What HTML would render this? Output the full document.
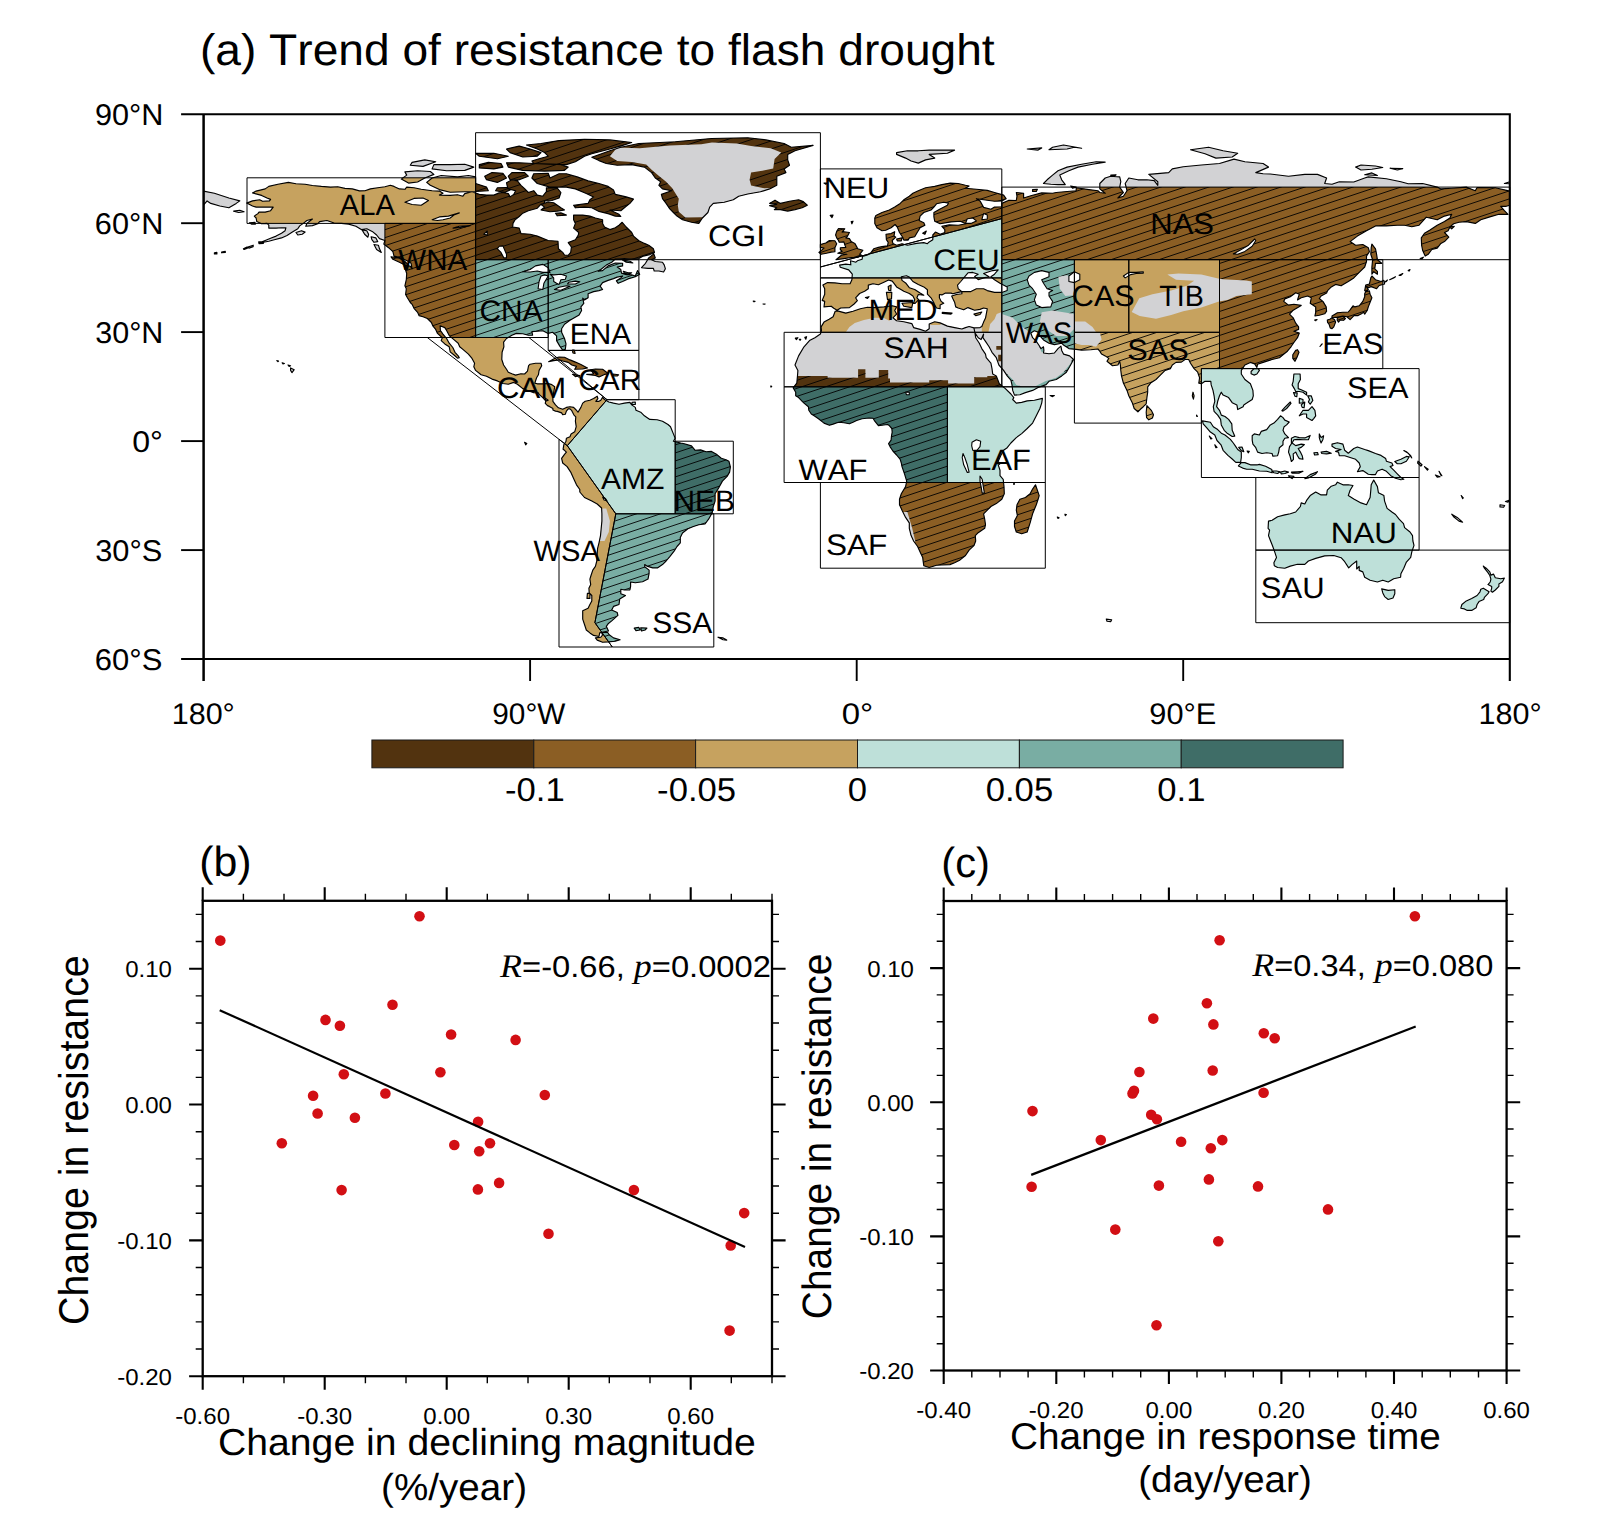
<!DOCTYPE html>
<html lang="en"><head><meta charset="utf-8"><title>Trend of resistance to flash drought</title>
<style>html,body{margin:0;padding:0;background:#fff}body{width:1602px;height:1533px;overflow:hidden}svg{display:block}text{font-kerning:none;text-rendering:geometricPrecision}</style>
</head><body>
<svg width="1602" height="1533" viewBox="0 0 1602 1533" font-family="'Liberation Sans', sans-serif" fill="#000">
<defs>
<clipPath id="land"><path d="M246.7,203.1L252.5,200.9L259.7,199.8L262.6,201.3L269.5,200.9L270.6,199.4L267.0,198.0L261.6,195.4L252.5,192.9L256.1,191.1L265.2,188.9L268.8,186.4L277.9,184.2L288.4,182.4L296.0,183.8L305.1,184.2L312.4,185.5L321.4,186.4L330.5,187.1L337.8,186.7L345.0,188.4L352.3,188.9L359.5,190.9L365.0,190.7L370.4,188.9L377.7,187.8L384.9,186.7L390.4,185.3L394.0,186.4L399.4,188.9L404.9,189.3L406.7,187.1L414.0,187.8L421.2,189.3L432.1,190.7L439.4,191.1L443.0,193.3L439.4,195.1L450.2,195.4L457.5,194.7L462.9,196.2L464.8,193.6L472.0,191.8L479.3,194.4L486.5,195.1L493.8,195.1L499.2,192.9L502.9,192.5L508.3,193.6L510.1,196.9L513.7,194.4L515.6,190.7L508.3,188.9L507.2,186.0L506.5,182.7L511.9,179.8L517.4,180.9L521.0,185.3L524.6,188.6L528.3,192.5L533.7,190.7L537.3,195.1L542.8,196.2L546.4,191.5L546.4,187.8L557.3,188.2L560.9,192.5L559.1,198.0L551.8,200.5L544.6,200.9L544.6,203.1L541.0,204.2L537.3,208.2L528.3,210.7L522.8,213.2L519.2,216.5L514.8,220.1L513.0,223.4L512.7,227.0L519.2,228.1L521.0,233.6L530.1,234.3L537.3,236.1L548.2,240.5L558.0,241.2L558.4,248.8L562.7,252.4L564.5,255.0L568.2,255.3L570.7,252.4L571.4,247.0L568.2,242.6L575.4,239.7L578.3,235.0L578.7,232.5L573.6,228.1L575.4,223.4L573.6,219.8L573.6,215.1L582.7,215.1L589.9,216.1L595.4,218.0L602.6,219.8L602.6,223.4L604.5,227.0L609.9,229.6L615.3,227.8L619.0,225.2L622.2,222.3L626.2,227.0L631.7,232.5L633.5,236.1L638.9,240.8L644.4,243.4L648.7,245.2L653.4,248.8L654.5,252.4L649.8,254.6L643.3,256.1L638.9,258.6L631.7,259.0L624.4,258.6L615.3,259.0L611.7,262.2L606.3,265.1L600.8,269.5L598.3,271.3L602.6,270.6L608.1,265.9L615.3,263.0L622.6,263.3L622.6,265.9L617.2,267.0L620.8,269.5L621.5,273.1L626.2,274.6L631.7,274.9L635.3,276.0L637.5,270.6L639.7,274.2L635.3,276.8L628.0,278.9L622.6,281.5L618.2,283.3L616.4,280.8L620.8,277.9L622.6,276.0L617.2,277.1L613.5,278.6L608.1,280.4L602.6,282.6L600.1,286.2L602.6,289.5L599.0,290.6L593.6,291.6L588.1,293.8L588.1,297.8L584.5,300.0L582.7,298.2L583.8,303.3L580.9,306.9L581.6,310.5L579.1,314.9L574.3,317.8L570.0,320.3L564.5,324.3L561.6,328.7L561.6,332.3L564.5,338.5L566.0,343.9L565.3,349.4L562.7,350.1L559.8,346.1L556.6,340.6L556.6,335.9L552.6,332.3L548.2,333.4L542.8,330.8L537.3,331.2L531.9,331.6L532.6,335.2L528.3,335.2L522.8,333.8L516.3,333.4L511.9,335.2L506.5,338.5L503.6,342.1L503.9,346.8L502.1,352.3L501.8,359.5L503.6,365.0L506.5,369.3L508.3,372.2L511.9,373.7L515.6,375.1L521.0,373.7L524.6,374.0L527.5,371.1L528.6,365.7L530.1,364.2L535.5,363.2L541.0,363.2L541.7,365.7L539.1,370.4L538.4,374.8L536.6,377.7L534.8,383.1L537.3,383.8L542.8,383.8L548.2,383.5L551.8,384.6L554.7,386.8L553.7,392.2L552.9,397.6L552.9,401.3L555.5,404.9L558.4,407.8L562.7,409.3L566.4,407.4L570.0,406.7L573.6,407.4L576.2,410.0L578.0,412.2L580.9,407.4L582.7,403.1L585.2,401.3L589.9,400.2L593.6,398.4L597.2,396.2L597.9,398.7L595.8,401.3L599.0,401.3L600.8,400.2L602.6,397.3L604.5,399.5L608.8,402.0L613.5,403.1L619.0,404.2L624.4,403.1L629.9,402.4L631.7,404.9L635.3,407.4L636.0,410.3L640.7,412.2L644.4,415.8L649.8,419.4L657.1,419.8L662.5,421.2L668.0,424.5L670.5,426.7L673.4,433.9L675.2,438.3L673.4,441.2L680.7,443.0L684.3,443.7L691.5,445.9L695.2,450.3L700.6,449.9L706.1,451.7L711.5,451.4L716.9,454.6L721.3,458.3L726.0,459.7L728.9,461.2L730.4,467.0L729.6,472.1L727.1,476.4L722.4,481.1L718.8,487.7L715.1,493.8L715.1,501.1L713.3,506.5L712.2,512.7L708.6,519.2L705.0,524.0L698.8,524.7L693.4,526.5L687.9,528.7L682.5,533.0L680.3,537.4L680.3,542.8L677.0,546.5L674.1,551.2L669.8,556.6L666.1,561.0L662.5,564.6L657.4,567.9L652.7,567.9L646.9,566.1L644.7,564.6L644.7,566.8L649.1,570.1L649.1,573.3L648.0,579.1L642.6,581.7L635.3,582.8L630.6,582.0L630.6,586.4L629.9,590.0L624.4,590.0L620.8,589.3L620.8,593.7L625.5,595.5L622.6,597.3L619.7,599.1L619.0,604.5L613.5,606.4L611.7,610.0L617.2,612.5L617.9,615.4L611.7,620.9L608.1,623.8L606.3,626.3L608.5,631.0L604.5,631.8L599.7,632.9L599.0,636.5L593.6,635.4L589.9,632.9L586.3,630.0L584.5,624.5L582.7,619.1L582.7,613.6L582.7,610.7L588.1,608.2L589.9,604.5L591.8,600.9L591.8,595.5L589.2,592.9L588.9,588.2L590.7,584.6L589.9,579.1L591.0,575.5L592.8,570.1L595.4,566.4L596.8,561.0L597.2,553.7L597.6,548.3L599.0,542.8L600.5,535.6L601.2,528.3L601.9,521.1L601.9,513.8L601.6,508.0L597.2,504.0L591.8,501.1L584.5,497.5L579.8,492.0L579.8,489.5L576.5,484.8L573.6,478.6L570.7,472.1L567.1,466.6L562.7,463.0L561.6,458.3L564.5,454.3L566.4,452.1L564.5,450.3L563.1,449.2L563.8,444.8L566.0,441.2L566.4,438.3L570.0,436.8L571.1,433.9L574.7,431.8L576.2,426.7L575.4,421.2L575.8,416.9L574.0,415.1L572.5,412.2L571.8,410.7L570.0,408.9L568.2,408.9L566.4,411.1L565.3,414.3L562.7,414.7L561.6,412.9L557.3,411.4L555.5,411.1L552.9,410.0L552.9,408.5L549.3,406.4L547.5,405.6L545.3,403.4L545.7,400.9L542.8,397.6L539.1,394.4L538.4,392.9L533.7,392.6L528.3,390.7L522.8,388.6L517.4,384.2L513.7,382.4L508.3,384.2L502.9,383.5L497.4,380.9L492.0,379.1L486.5,376.2L481.1,374.8L475.6,370.4L473.8,366.8L474.6,363.2L472.0,358.4L468.4,354.1L462.9,349.4L459.7,346.8L458.2,343.2L453.9,339.6L449.5,335.9L446.6,330.5L444.8,327.6L440.1,325.8L440.4,330.5L443.0,334.1L446.6,338.5L449.2,343.2L452.8,347.5L455.0,352.3L458.2,355.9L459.3,357.7L457.5,358.1L454.6,355.5L450.2,351.9L449.2,346.8L444.8,343.9L441.2,340.6L442.3,337.7L437.5,333.4L435.7,329.4L432.8,325.8L431.4,322.5L427.4,318.5L423.0,316.7L419.0,315.6L417.6,312.3L414.0,308.3L412.1,304.3L410.3,302.5L407.4,297.8L405.6,294.5L406.3,288.7L404.9,285.8L406.3,279.7L406.7,273.5L404.2,265.9L410.3,266.2L412.1,268.8L411.1,263.3L408.5,261.5L404.9,259.7L399.4,257.2L394.0,256.1L392.9,251.7L388.6,247.7L383.8,244.1L384.9,240.5L379.5,238.6L376.6,235.0L372.2,231.4L366.8,228.8L361.3,229.6L355.9,226.3L348.6,224.1L341.4,223.4L334.1,223.0L326.9,220.5L319.6,221.6L317.8,223.8L312.4,225.6L305.8,226.3L306.9,223.4L312.4,219.0L306.9,220.5L303.3,223.4L299.7,225.9L297.8,228.8L292.4,232.1L287.0,235.4L281.5,237.9L274.3,239.7L268.8,241.2L263.4,242.3L258.7,243.0L265.2,240.5L270.6,238.3L276.1,236.1L281.5,233.2L285.1,230.7L285.9,227.8L281.5,227.8L276.1,228.1L268.8,228.1L268.8,225.2L267.0,223.4L261.6,223.8L256.8,221.6L256.1,218.0L254.3,216.1L257.9,213.6L259.0,212.1L265.2,212.1L270.6,210.7L273.2,207.1L268.8,207.1L263.4,207.1L256.1,207.1L252.5,206.0ZM591.8,157.3L609.9,150.8L620.8,147.2L638.9,143.5L675.2,141.7L711.5,138.5L747.8,137.7L765.9,139.9L784.1,143.5L791.3,147.2L813.1,145.4L795.0,150.8L787.7,154.4L787.7,159.9L789.5,165.3L784.1,168.9L785.9,172.6L776.8,176.2L776.8,179.8L776.8,185.3L769.6,188.9L760.5,191.8L747.8,194.0L738.7,196.2L733.3,199.8L724.2,202.3L713.3,203.4L709.7,207.1L707.9,212.5L702.4,218.0L698.8,223.4L691.5,222.3L682.5,219.8L677.0,216.1L673.4,212.5L669.8,208.9L666.1,203.4L662.5,198.7L661.4,194.4L671.6,190.7L662.5,188.9L658.9,185.3L660.7,181.7L655.3,178.0L651.6,172.6L644.4,167.1L631.7,164.6L617.2,165.3L606.3,163.5L599.0,160.6ZM620.8,216.5L615.3,216.1L608.1,213.6L599.0,211.4L591.8,207.8L584.5,207.1L575.4,207.8L573.6,205.2L588.1,203.4L589.9,199.8L593.6,196.9L586.3,193.6L575.4,188.9L566.4,187.1L550.0,187.1L537.3,183.5L531.9,178.0L533.7,173.7L548.2,173.3L550.0,178.0L559.1,173.7L566.4,173.7L577.2,176.9L588.1,180.9L599.0,183.5L608.1,186.4L613.5,190.0L615.3,194.4L626.2,196.9L633.5,199.1L629.9,203.4L626.2,206.3L620.8,210.7L609.9,210.0L619.0,214.3ZM439.4,189.6L430.3,185.3L426.7,182.4L432.1,178.0L441.2,175.5L457.5,176.9L468.4,175.5L475.6,176.9L475.6,183.5L486.5,187.1L488.3,190.7L475.6,191.5L464.8,191.8L450.2,192.2ZM401.3,179.1L408.5,183.1L417.6,182.0L424.8,178.0L433.9,174.4L430.3,171.5L417.6,170.8L404.9,171.9L406.7,175.1ZM432.1,168.9L446.6,170.8L464.8,170.4L473.8,167.1L464.8,164.2L450.2,164.6L433.9,164.6ZM410.3,165.3L423.0,166.4L435.7,161.7L424.8,159.9L412.1,162.4ZM479.3,167.9L493.8,168.9L502.9,167.1L501.0,163.5L488.3,162.4L479.3,164.6ZM510.1,179.8L519.2,179.8L528.3,176.2L524.6,172.6L511.9,172.6L508.3,176.2ZM486.5,179.8L497.4,182.4L506.5,178.0L502.9,173.3L492.0,172.6L484.7,176.2ZM495.6,190.7L504.7,192.2L510.1,190.0L506.5,187.5L497.4,187.8ZM508.3,167.1L522.8,170.4L544.6,171.1L564.5,170.4L568.2,167.1L559.1,164.2L533.7,163.5L519.2,162.8L506.5,162.8ZM533.7,163.5L548.2,164.2L566.4,164.6L575.4,161.7L584.5,156.2L591.8,153.7L609.9,149.0L622.6,145.4L631.7,142.5L609.9,139.9L584.5,139.2L559.1,140.6L541.0,143.5L526.4,145.0L537.3,149.0L544.6,152.6L548.2,156.2L539.1,158.8L531.9,161.0ZM510.1,152.6L522.8,157.0L537.3,156.2L541.0,152.6L530.1,149.0L519.2,146.1L506.5,149.0ZM479.3,156.2L497.4,158.8L508.3,156.2L493.8,153.3L475.6,153.3ZM541.0,204.5L548.2,202.0L553.7,202.7L560.9,207.8L564.5,210.0L557.3,211.1L550.0,211.8L541.0,210.0L544.6,207.1ZM555.5,213.2L560.9,212.9L566.4,215.1L557.3,215.8ZM641.5,267.7L645.5,263.3L648.7,257.9L653.8,253.9L655.3,257.9L651.6,259.7L655.3,261.5L662.5,262.2L664.3,265.1L665.4,268.8L663.6,272.0L658.9,271.0L654.2,271.0L653.4,268.4L648.0,268.4ZM622.6,260.1L629.9,261.2L632.8,263.0L626.2,262.2ZM623.3,271.3L628.0,272.8L631.7,272.8L628.8,274.2L624.4,273.1ZM391.1,256.8L399.4,258.2L404.9,261.5L408.9,265.5L404.9,265.1L399.4,262.2L392.9,259.3ZM374.0,244.5L378.4,245.2L379.5,248.8L381.3,252.4L376.6,249.5ZM296.0,232.5L301.5,230.7L305.1,232.1L302.2,234.3L297.8,235.0ZM249.6,222.7L255.0,222.3L255.4,224.1L251.4,224.1ZM233.6,211.1L239.8,210.3L244.1,211.8L238.7,212.5ZM258.7,241.9L264.1,241.6L263.4,243.4L259.0,243.7ZM247.8,247.0L253.2,245.2L253.2,246.6L248.9,248.1ZM243.4,248.8L247.0,247.0L247.4,248.1L244.1,249.5ZM221.6,252.1L225.3,251.4L225.3,252.4L221.6,252.8ZM214.4,252.8L216.9,252.4L216.9,253.9L214.4,253.9ZM371.1,236.8L375.9,237.9L377.7,241.6L374.0,242.3L371.9,239.7ZM362.1,229.9L366.8,230.7L368.6,234.3L367.9,237.2L364.6,234.3ZM601.6,632.5L607.7,632.5L609.2,634.7L613.5,637.9L620.1,639.8L615.3,641.2L608.1,641.9L602.6,642.3L597.2,640.1L595.4,637.9L600.8,637.2L602.6,635.0ZM587.4,593.3L589.9,593.3L589.9,598.4L587.0,598.4ZM634.2,628.1L638.9,627.4L640.0,630.0L636.0,630.7ZM640.7,627.8L646.9,628.1L645.1,630.0L641.5,631.0ZM718.0,637.2L723.1,637.9L726.7,640.1L723.1,639.8ZM548.6,361.7L555.5,358.1L559.1,357.0L564.5,357.3L570.0,359.9L575.4,362.1L580.9,364.6L587.4,367.9L582.7,369.0L574.7,369.3L576.5,366.4L571.8,365.0L568.2,362.4L562.7,361.0L559.1,359.9L553.7,360.6ZM586.7,374.4L591.8,374.0L593.6,373.7L590.7,369.7L595.4,369.0L602.6,369.3L608.5,373.7L604.5,374.4L599.0,376.9L595.4,375.5ZM572.5,374.4L579.8,375.5L575.4,376.6ZM612.8,374.0L618.6,374.8L617.2,376.0L612.8,375.9ZM632.0,402.4L635.3,402.0L635.3,404.5L632.0,404.5ZM572.5,350.1L574.3,350.1L575.1,353.4L572.9,353.0ZM290.6,367.9L294.2,369.7L292.0,372.6L290.6,370.4ZM288.0,365.0L290.6,365.7L289.1,366.4ZM282.2,362.8L284.4,363.5L283.0,363.9ZM276.8,360.6L278.6,361.0L277.9,361.7ZM524.6,442.3L526.8,443.4L525.7,444.8ZM824.0,306.9L824.7,301.4L822.2,300.4L824.7,294.2L824.7,288.7L822.9,285.1L827.6,282.6L834.9,282.9L842.1,283.7L850.1,283.7L851.9,279.7L852.3,274.2L848.7,269.9L840.3,267.3L839.6,265.1L845.8,264.1L850.8,264.8L850.5,260.8L855.9,262.2L857.4,260.8L862.1,259.3L862.5,256.4L867.5,255.0L871.2,252.4L873.7,248.8L878.4,247.4L882.0,246.6L887.5,245.9L888.2,242.3L886.4,239.7L886.0,234.3L891.1,233.6L894.7,231.7L894.0,236.1L895.8,237.2L892.2,240.5L892.9,243.4L896.6,245.2L902.0,243.7L907.4,245.2L916.5,243.4L923.8,242.6L927.4,243.7L929.2,241.9L932.8,239.7L932.8,235.0L935.4,232.1L940.1,234.3L944.8,232.5L944.8,229.6L941.9,226.3L949.2,224.9L958.2,225.2L966.2,223.8L960.1,221.2L951.0,221.9L940.1,223.8L934.7,221.2L933.9,216.9L933.9,212.5L940.1,208.9L947.4,205.2L948.5,203.1L943.7,202.3L936.5,203.8L933.9,207.1L931.0,210.0L923.8,212.5L920.1,216.1L919.1,220.5L923.8,222.7L924.9,225.2L920.1,227.8L917.2,232.5L914.7,236.8L909.3,237.9L908.2,240.1L903.8,240.1L902.7,237.2L899.5,232.5L897.3,227.0L895.1,224.5L891.1,227.8L885.7,230.3L882.0,230.7L877.0,227.8L874.8,223.4L874.8,218.0L875.9,215.4L882.0,212.5L889.3,210.0L894.7,207.1L900.2,203.4L903.8,199.8L909.3,196.2L912.9,193.3L918.3,190.7L925.6,187.8L934.7,186.4L941.9,184.6L950.3,183.1L958.2,183.5L965.5,185.3L969.1,186.0L965.5,188.2L976.4,189.3L987.3,190.4L994.5,192.5L1003.6,195.1L1006.1,198.7L1001.8,200.9L994.5,201.3L983.6,199.8L976.4,198.7L980.0,200.9L983.6,207.4L990.9,209.2L994.5,207.1L1001.8,206.7L1001.8,203.4L1009.0,200.2L1016.3,200.5L1017.0,196.2L1016.3,192.5L1023.6,193.3L1023.6,198.0L1030.8,195.8L1041.7,192.9L1052.6,193.3L1056.2,192.5L1067.1,191.5L1076.2,190.7L1076.2,187.8L1088.9,189.6L1097.9,190.7L1099.8,192.5L1105.2,193.3L1099.8,188.9L1099.8,183.5L1105.2,178.0L1110.7,176.2L1119.7,176.9L1120.8,181.7L1119.7,187.1L1123.4,192.5L1117.9,198.0L1123.4,196.2L1127.0,190.7L1125.2,183.5L1128.8,178.0L1137.9,179.8L1146.9,179.8L1154.2,180.6L1157.8,185.3L1157.8,181.7L1148.8,174.4L1168.7,172.6L1172.3,168.9L1183.2,166.8L1201.4,165.0L1219.5,163.5L1234.0,159.1L1244.9,161.7L1263.1,163.5L1268.5,167.1L1255.8,172.6L1263.1,173.7L1270.3,174.0L1288.5,176.2L1304.8,174.4L1317.5,174.4L1326.6,178.0L1324.7,183.5L1332.0,184.2L1339.3,181.7L1353.8,182.0L1364.7,178.0L1368.3,176.9L1386.4,178.8L1400.9,181.7L1408.2,183.8L1422.7,183.5L1437.2,187.1L1440.9,188.9L1451.7,188.2L1466.3,187.1L1475.3,190.7L1477.1,187.5L1495.3,187.8L1509.8,191.1L1509.8,205.2L1506.2,206.3L1500.7,206.3L1504.4,210.7L1508.0,214.3L1498.9,214.3L1489.8,216.9L1480.8,219.8L1475.3,223.4L1466.3,221.6L1459.0,222.3L1453.6,223.8L1449.9,227.0L1448.1,230.7L1444.5,232.5L1448.8,237.2L1444.5,241.6L1440.9,243.4L1437.2,248.1L1431.8,249.5L1428.2,254.3L1425.2,256.1L1422.7,250.6L1421.6,245.2L1421.3,237.9L1424.5,233.2L1430.0,229.9L1437.2,225.2L1444.5,221.6L1449.9,218.0L1451.7,214.3L1444.5,216.1L1437.2,219.8L1426.3,217.2L1419.1,225.2L1411.8,226.7L1404.6,225.2L1397.3,225.2L1386.4,225.9L1375.5,225.9L1366.5,230.7L1357.4,236.1L1350.1,241.6L1355.6,245.2L1362.8,244.5L1368.3,247.7L1369.4,251.7L1366.5,256.1L1366.5,261.5L1364.7,267.0L1359.2,272.4L1353.8,277.9L1348.3,281.5L1341.1,285.8L1335.6,284.4L1331.3,286.9L1327.6,290.6L1326.6,293.1L1321.1,296.0L1319.3,298.5L1322.9,301.4L1326.2,306.9L1326.6,311.2L1324.7,313.8L1319.3,315.2L1314.9,316.0L1315.7,312.3L1315.7,306.9L1310.2,303.3L1311.3,297.8L1307.7,296.0L1301.2,297.8L1297.5,300.0L1299.3,294.2L1295.7,292.7L1290.3,296.7L1284.8,298.9L1283.7,301.4L1288.5,305.1L1293.9,304.3L1301.2,305.4L1295.7,308.7L1292.8,310.5L1289.5,314.1L1293.2,317.8L1295.7,323.2L1298.6,326.9L1298.6,329.4L1293.9,331.2L1299.3,333.0L1297.5,337.7L1293.9,342.5L1291.0,346.8L1287.4,351.2L1283.0,354.8L1279.4,357.7L1272.1,359.5L1268.5,360.6L1263.1,362.4L1257.6,364.2L1256.9,367.5L1254.7,363.9L1250.4,362.4L1244.9,365.0L1241.3,370.4L1241.3,374.0L1244.9,379.5L1250.4,383.8L1252.9,390.4L1253.3,395.8L1252.2,399.5L1246.7,403.1L1243.8,404.9L1243.1,406.7L1237.7,409.6L1236.9,404.9L1232.2,402.7L1228.6,397.6L1223.1,395.1L1221.3,392.2L1219.5,395.8L1217.7,401.3L1216.6,406.7L1219.5,410.3L1221.3,415.1L1225.0,416.5L1228.6,419.4L1231.8,423.8L1232.2,430.3L1234.7,436.1L1232.2,436.5L1226.8,432.9L1224.2,430.3L1221.3,424.9L1220.6,419.4L1217.7,415.1L1214.1,411.4L1213.3,406.7L1214.8,401.3L1214.1,395.8L1213.0,390.4L1211.2,384.9L1210.8,381.3L1205.0,381.3L1201.4,383.8L1198.8,383.1L1199.6,377.7L1197.7,372.2L1194.1,368.6L1190.5,363.2L1188.7,359.5L1185.0,359.5L1181.4,362.1L1176.0,362.4L1172.3,365.0L1170.5,368.6L1165.1,370.4L1159.6,375.9L1156.0,379.5L1150.6,383.1L1147.7,386.8L1147.7,392.2L1146.9,397.6L1146.2,403.8L1143.3,406.7L1140.4,409.3L1137.9,411.8L1134.2,408.5L1132.4,403.1L1128.8,395.8L1127.0,390.4L1123.4,383.1L1121.5,375.9L1120.8,370.4L1120.4,365.0L1119.7,361.3L1117.9,365.0L1112.5,365.7L1107.0,361.3L1108.8,358.4L1105.2,355.9L1101.6,354.1L1099.8,351.2L1097.9,349.0L1090.7,349.7L1081.6,350.1L1076.2,349.4L1068.9,348.6L1063.5,345.0L1061.7,343.2L1054.4,344.6L1049.0,343.2L1043.5,339.9L1039.9,335.9L1038.1,332.3L1034.4,330.8L1030.8,333.0L1032.6,337.7L1036.3,341.4L1038.8,345.0L1041.0,348.6L1043.5,346.8L1043.9,350.4L1043.5,353.0L1049.0,353.7L1054.4,353.0L1058.0,348.6L1060.9,346.1L1061.7,350.4L1063.5,354.1L1069.6,355.9L1073.6,359.5L1069.6,366.8L1066.4,372.2L1061.7,375.9L1056.2,379.5L1049.0,381.3L1046.1,384.6L1038.1,387.5L1032.6,390.4L1025.4,392.6L1019.9,394.7L1014.5,395.1L1012.7,390.4L1012.0,384.9L1010.9,380.2L1007.2,375.9L1003.6,370.4L998.9,365.0L996.3,357.7L992.0,352.3L989.1,346.8L985.5,341.4L982.9,337.7L983.6,334.1L981.1,339.6L978.2,337.7L974.9,332.7L973.9,327.9L980.0,327.6L981.8,326.5L983.6,322.1L985.5,318.1L986.6,312.3L987.3,308.7L983.6,308.0L980.0,309.4L974.6,310.2L968.0,307.6L963.7,309.8L958.2,308.0L955.7,306.9L954.6,302.2L952.8,298.5L951.7,296.0L956.4,294.5L961.9,293.8L961.9,291.6L958.2,292.4L952.8,293.8L951.0,293.1L945.5,293.1L941.9,294.9L939.4,294.5L939.4,297.8L941.2,301.4L943.7,303.3L940.1,305.1L940.1,308.7L936.5,308.0L934.7,305.1L933.6,302.2L931.0,297.8L927.4,294.2L927.4,289.8L923.8,286.9L918.3,284.4L912.9,281.5L909.3,277.1L906.4,275.7L901.3,276.8L902.0,280.4L906.0,283.3L909.3,287.7L914.7,289.5L920.1,293.1L923.8,295.3L918.3,294.5L916.9,297.8L918.7,299.6L915.1,303.3L913.6,303.3L914.7,299.6L912.9,296.0L909.3,293.5L903.8,291.3L900.9,289.5L896.6,286.9L894.0,283.3L892.2,281.1L888.6,280.0L883.9,282.2L878.4,284.7L873.0,283.7L868.3,285.1L868.3,288.7L864.6,291.3L859.6,293.5L855.6,297.8L857.4,300.7L854.1,304.0L849.4,307.6L840.7,308.0L837.1,310.2L833.8,308.3L831.2,306.2ZM203.5,191.1L214.4,193.3L228.9,198.0L239.8,200.9L236.2,203.4L228.9,207.8L219.8,206.0L210.8,203.4L207.1,200.9L203.5,205.2ZM835.2,311.2L837.4,310.9L845.8,313.1L853.0,311.2L860.3,308.7L867.5,307.3L874.8,307.6L883.9,306.9L892.2,305.8L896.6,306.9L894.7,310.5L896.6,314.1L892.9,317.8L896.6,320.7L903.8,321.8L911.8,323.6L913.6,327.6L920.1,329.4L925.6,331.2L929.2,328.7L929.2,324.0L934.7,321.8L940.1,322.9L947.4,326.1L954.6,327.6L961.9,329.0L965.5,327.6L969.1,326.5L973.9,327.9L974.9,332.7L975.7,337.7L979.3,343.2L981.8,348.6L985.5,354.1L986.2,357.7L990.9,363.2L992.0,368.6L992.7,374.0L996.3,375.9L999.3,383.8L1005.4,388.6L1010.9,394.0L1013.8,397.6L1012.7,399.5L1016.3,403.1L1021.7,402.4L1027.2,400.9L1034.4,400.2L1042.4,398.4L1041.7,403.1L1039.9,408.5L1036.3,415.8L1032.6,423.1L1027.2,428.5L1021.7,433.6L1016.3,437.6L1010.9,443.0L1007.2,447.7L1003.6,450.3L1000.7,455.7L998.2,461.2L998.2,464.8L1000.0,470.2L1000.0,475.7L1003.2,479.3L1004.0,486.6L1004.3,493.8L1001.8,499.3L996.3,503.6L990.9,506.5L987.3,510.2L983.6,513.8L984.7,519.2L985.5,524.7L984.7,528.3L978.2,532.7L975.3,535.6L975.7,541.0L973.9,545.7L969.1,550.1L965.5,555.5L960.1,559.9L954.6,562.8L949.9,564.6L941.9,565.0L936.5,565.3L929.2,567.5L923.8,565.7L923.1,561.0L922.7,557.4L920.1,551.9L917.6,546.5L913.6,541.0L911.1,535.6L909.3,528.3L909.3,522.9L905.6,517.4L902.0,510.2L899.5,504.7L899.5,499.3L901.3,493.8L905.6,486.6L906.7,481.1L904.5,473.9L902.0,466.6L901.3,463.0L900.2,459.3L896.6,455.0L892.9,451.0L890.0,446.6L888.6,443.7L891.1,440.1L891.5,435.8L892.2,432.1L891.8,428.5L889.3,425.6L887.5,424.5L882.0,425.2L878.4,425.6L874.8,421.2L873.0,418.3L869.0,418.0L862.1,418.7L856.6,420.5L853.0,422.3L849.4,423.8L843.9,422.7L838.5,422.3L833.1,424.1L829.4,425.2L824.0,423.1L818.5,418.7L814.9,416.2L811.3,414.0L808.8,410.3L808.4,406.7L804.0,403.1L802.2,401.3L798.6,397.6L795.7,395.8L795.7,392.2L793.1,387.8L796.8,383.1L797.5,375.9L797.9,370.4L795.0,365.0L798.6,355.9L804.0,346.8L809.5,340.6L814.9,337.7L820.4,334.1L821.5,330.5L821.1,326.9L824.0,322.1L829.1,319.2L833.1,316.7ZM1035.5,484.8L1039.2,495.6L1038.1,499.3L1036.3,504.7L1032.6,513.8L1030.1,522.9L1027.2,532.0L1021.7,533.8L1016.3,532.0L1014.5,526.5L1014.5,521.1L1017.4,515.6L1016.3,510.2L1017.0,504.7L1019.9,499.3L1025.4,497.5L1030.1,493.8L1032.6,489.1ZM1268.5,521.1L1272.1,520.3L1277.6,516.7L1284.8,514.9L1290.3,513.8L1295.7,512.0L1300.4,506.5L1301.2,502.9L1304.8,504.0L1306.6,500.4L1310.2,495.6L1315.7,492.0L1321.1,494.9L1326.6,494.9L1327.3,490.2L1331.3,486.2L1335.6,484.8L1337.4,482.2L1342.9,484.8L1348.3,484.8L1353.0,485.5L1350.1,490.2L1348.3,495.6L1353.8,498.9L1361.0,502.9L1366.5,504.7L1370.1,497.5L1370.8,490.2L1371.2,484.8L1373.7,480.0L1377.4,486.6L1378.4,492.7L1383.9,495.6L1384.6,501.1L1387.1,508.4L1391.9,512.0L1395.5,514.5L1399.1,519.2L1403.5,523.6L1404.6,527.6L1410.0,532.0L1412.5,535.6L1412.9,541.0L1414.0,545.4L1411.8,551.9L1410.7,557.4L1406.4,562.1L1403.8,568.2L1400.9,573.7L1400.6,577.3L1393.7,578.8L1388.2,582.0L1382.8,580.2L1377.4,582.0L1370.1,580.2L1364.7,577.3L1362.8,571.9L1359.2,570.4L1359.2,566.4L1356.7,569.0L1356.7,561.0L1352.0,564.6L1348.7,567.9L1344.7,561.7L1341.1,557.7L1333.8,555.5L1324.7,555.9L1315.7,558.4L1308.4,561.0L1304.8,564.3L1297.5,564.3L1290.3,566.1L1284.8,568.2L1277.6,567.5L1274.3,565.7L1273.9,562.8L1276.5,557.4L1274.7,551.9L1272.5,545.7L1270.3,540.3L1268.5,535.6L1269.6,530.1L1268.1,528.3ZM1381.7,588.9L1388.2,590.4L1394.8,589.7L1394.8,593.7L1393.0,598.0L1388.2,599.5L1384.6,596.6L1382.8,592.9ZM1483.3,566.1L1486.2,568.2L1489.8,571.9L1490.9,575.1L1493.5,574.1L1495.3,577.7L1500.7,578.8L1504.4,578.1L1502.5,581.7L1498.9,583.9L1498.9,586.4L1495.3,590.0L1492.4,592.2L1490.9,591.1L1491.7,588.2L1491.7,586.4L1488.0,584.6L1490.2,582.0L1490.9,579.1L1489.8,575.5L1488.0,572.6L1484.4,568.2ZM1483.3,588.2L1486.2,590.0L1489.1,591.8L1488.0,593.7L1484.4,597.3L1483.7,599.5L1479.0,601.6L1477.1,604.5L1476.1,607.8L1471.7,610.4L1467.3,610.4L1464.4,608.9L1460.8,608.2L1461.9,604.5L1466.3,600.9L1471.7,598.4L1477.1,595.5L1480.0,591.8L1480.8,589.3ZM1332.0,444.1L1337.4,442.7L1342.9,444.1L1344.7,450.3L1348.3,453.2L1353.8,448.5L1357.4,447.0L1364.7,449.5L1368.3,450.6L1375.5,453.5L1381.0,455.4L1385.7,458.6L1386.4,461.2L1391.9,463.0L1393.0,465.5L1390.1,466.6L1393.7,470.2L1397.3,473.9L1400.9,477.5L1403.8,479.3L1400.9,479.7L1395.5,478.2L1390.8,475.7L1386.4,471.3L1382.1,469.2L1377.4,471.0L1375.5,474.6L1371.9,474.6L1368.3,474.2L1362.8,470.6L1357.4,471.7L1360.3,466.6L1359.2,463.0L1355.6,459.3L1350.1,457.5L1344.7,455.7L1339.3,455.7L1338.5,452.1L1335.6,451.4L1341.1,449.5L1335.6,448.5L1332.0,446.3ZM1252.2,435.8L1254.3,433.9L1259.4,435.0L1261.2,431.4L1266.7,429.6L1270.3,424.9L1273.9,423.1L1277.6,419.4L1280.5,415.8L1283.0,417.6L1284.8,420.1L1289.2,422.0L1286.6,424.9L1284.1,426.7L1283.0,430.3L1284.8,433.9L1288.5,437.6L1284.8,438.3L1283.0,441.2L1283.0,444.8L1279.4,447.7L1278.7,452.1L1277.6,455.7L1272.8,456.1L1272.1,453.5L1266.7,452.8L1262.0,453.5L1257.6,452.1L1255.8,447.7L1252.9,444.1L1252.2,440.1ZM1202.5,420.9L1210.4,422.3L1213.3,426.7L1217.7,429.6L1221.3,433.2L1225.0,435.0L1230.4,439.4L1233.3,443.0L1235.8,446.6L1237.7,449.5L1241.3,452.1L1241.3,457.5L1240.6,462.3L1235.8,462.3L1232.2,459.0L1227.9,455.4L1223.1,450.3L1221.0,444.8L1217.0,440.5L1214.8,435.0L1210.4,432.1L1206.8,427.8L1203.2,423.8ZM1238.4,465.9L1241.3,462.6L1244.9,462.6L1250.4,464.8L1257.6,464.8L1259.4,464.4L1265.6,466.2L1271.8,469.5L1272.1,472.8L1266.7,471.3L1259.4,471.0L1252.2,469.2L1246.7,469.2L1242.7,468.1ZM1291.4,438.3L1295.0,436.5L1299.3,437.6L1304.8,437.9L1310.2,435.4L1308.4,439.7L1303.0,439.7L1297.5,439.4L1293.9,439.7L1292.1,443.0L1295.7,445.6L1301.2,444.1L1304.4,444.5L1301.2,447.4L1298.2,448.5L1300.4,452.1L1302.2,455.7L1303.0,459.3L1299.3,458.6L1297.5,455.7L1295.7,452.1L1293.2,453.9L1293.5,459.3L1291.4,461.5L1289.9,455.7L1288.5,452.1L1289.5,446.6L1291.4,443.7ZM1293.9,374.0L1300.1,374.0L1300.4,379.5L1298.2,383.8L1298.2,388.6L1301.2,389.7L1306.6,392.2L1306.6,395.1L1303.0,392.2L1299.3,391.5L1295.7,391.5L1294.3,388.6L1292.1,384.9L1293.2,381.3ZM1299.3,415.8L1303.0,410.3L1308.4,410.3L1312.0,406.7L1314.9,410.3L1315.7,415.8L1313.9,418.3L1312.0,420.5L1310.2,419.4L1306.6,417.6L1306.6,414.0L1303.0,414.0ZM1307.7,395.8L1311.3,395.8L1312.8,400.5L1310.2,404.2L1308.4,402.0L1309.5,399.5ZM1299.3,398.4L1303.0,399.5L1303.0,402.7L1299.3,403.1ZM1301.2,404.9L1304.8,402.0L1304.1,407.8L1302.2,407.4ZM1281.9,410.7L1284.8,407.4L1290.3,402.0L1291.0,403.4L1286.6,408.5L1283.0,411.1ZM1293.5,392.6L1297.2,392.9L1296.8,396.6L1295.0,396.2ZM1297.5,349.7L1299.0,352.3L1296.8,357.7L1295.0,361.3L1292.8,358.4L1292.8,354.8L1295.7,350.4ZM1251.1,371.5L1254.0,368.6L1258.3,368.6L1259.4,370.4L1256.9,374.0L1254.0,375.1L1251.1,373.7ZM1146.9,405.6L1151.3,410.3L1153.5,414.7L1152.4,418.0L1148.8,419.8L1146.6,417.6L1146.2,412.2ZM1369.4,290.9L1370.1,294.2L1371.9,297.8L1370.1,302.2L1368.3,306.9L1367.2,310.5L1364.7,314.1L1363.6,312.3L1361.0,314.1L1358.1,315.6L1353.8,315.6L1353.0,316.7L1350.1,319.6L1346.9,316.7L1342.9,316.0L1337.4,317.1L1332.0,317.8L1332.0,316.0L1337.4,312.7L1342.9,312.3L1348.3,312.0L1350.1,309.8L1353.0,305.8L1354.9,306.9L1359.2,305.8L1362.8,301.4L1364.7,296.7L1364.7,293.8L1365.7,291.6ZM1364.7,290.6L1365.7,285.1L1369.4,284.0L1370.8,277.9L1371.9,276.0L1375.5,279.7L1381.0,281.5L1383.9,280.4L1384.6,284.0L1379.2,285.5L1376.6,288.7L1371.2,286.6L1368.3,287.7L1366.5,286.9L1368.3,289.5L1365.7,290.9ZM1331.6,318.1L1334.5,319.6L1335.6,322.1L1333.8,326.9L1332.0,328.7L1330.2,327.9L1329.1,324.3L1327.6,322.5L1327.3,320.0L1329.8,319.2ZM1337.4,317.8L1342.9,316.3L1345.4,318.5L1343.6,320.3L1340.3,320.0L1338.5,322.1L1337.1,320.0ZM1371.9,244.1L1375.5,248.8L1376.6,254.3L1377.4,259.7L1381.7,263.3L1375.5,263.3L1374.8,268.8L1377.4,271.3L1377.4,274.2L1373.7,271.7L1371.9,274.2L1371.9,267.0L1372.6,259.7L1370.8,254.3L1371.2,247.7ZM836.0,259.7L843.9,258.6L851.2,257.5L857.7,257.2L861.7,255.3L859.6,254.3L862.8,250.3L857.7,248.8L856.6,246.6L854.8,243.4L851.2,241.6L849.4,238.6L845.8,237.9L847.6,236.1L849.4,232.5L843.9,231.7L842.1,232.1L844.7,228.8L838.5,228.5L836.7,231.4L835.6,235.0L836.7,237.9L838.5,240.5L839.2,242.3L843.9,241.9L845.0,245.2L845.8,247.4L840.3,247.7L840.3,249.5L842.1,251.4L837.8,253.2L843.9,254.3L846.9,254.3L841.4,255.3ZM834.9,251.7L834.9,247.7L836.7,243.7L834.9,240.8L829.4,240.5L825.8,243.0L820.4,244.5L820.4,247.4L824.0,248.1L821.1,250.6L818.9,252.4L821.1,254.3L826.5,253.2L831.2,252.1ZM769.6,203.4L775.0,200.2L780.4,203.4L789.5,201.3L798.6,199.8L803.3,201.6L807.3,205.2L802.2,207.8L795.0,209.6L787.7,211.1L780.4,209.6L774.3,209.6L776.8,207.8L769.6,205.6L776.8,204.5ZM896.6,152.6L907.4,150.8L918.3,150.8L929.2,150.1L954.6,150.1L947.4,153.3L929.2,154.4L934.7,158.1L925.6,159.9L918.3,163.1L911.1,161.0L905.6,158.1L896.6,154.4ZM1043.5,183.5L1050.8,184.2L1058.0,184.6L1065.3,184.6L1061.7,179.8L1059.8,175.1L1068.9,170.8L1078.0,167.1L1092.5,164.2L1105.2,162.1L1096.1,161.7L1081.6,164.2L1067.1,167.1L1058.0,170.8L1052.6,175.1L1047.1,179.8ZM1205.0,153.7L1215.9,158.1L1232.2,157.0L1237.7,153.3L1223.1,150.8L1208.6,147.2L1190.5,149.7ZM1355.6,167.1L1361.0,165.0L1375.5,166.0L1382.8,167.5L1371.9,169.3L1361.0,170.0ZM1364.7,174.8L1377.4,175.5L1371.9,172.9ZM1390.1,168.2L1402.8,168.6L1397.3,170.0ZM1504.4,183.5L1509.8,181.7L1509.8,183.8ZM1027.2,149.0L1041.7,147.9L1038.1,150.1ZM1049.0,149.7L1067.1,149.0L1074.4,147.2L1081.6,148.3L1063.5,145.0L1052.6,147.2ZM902.0,303.3L912.9,302.5L911.8,307.6L903.8,306.2ZM886.4,292.4L891.8,292.4L891.5,298.9L887.5,299.6ZM888.2,286.6L891.1,285.1L890.8,290.6L888.6,290.2ZM942.3,312.3L952.1,313.1L951.0,314.1L942.3,313.4ZM973.9,314.1L981.8,312.0L980.0,314.5L975.7,315.6ZM865.4,297.5L869.0,296.7L867.5,298.5ZM896.6,239.0L902.0,237.9L901.3,240.8L897.3,240.8ZM922.7,233.2L926.3,231.0L924.9,234.3ZM1050.1,395.5L1054.4,395.5L1052.6,396.6ZM1304.8,478.6L1310.2,474.6L1317.5,471.7L1315.7,473.9L1308.4,477.9ZM1291.4,472.1L1297.5,471.7L1303.0,471.3L1299.3,473.1L1292.1,473.1ZM1280.5,472.1L1284.8,471.0L1288.5,472.1L1284.8,473.5L1281.2,473.9ZM1272.1,471.0L1276.5,471.0L1280.1,471.7L1277.6,473.5L1273.9,472.8ZM1288.5,475.7L1293.9,476.4L1292.1,478.6L1289.2,476.8ZM1319.3,433.9L1321.1,437.6L1323.6,435.8L1322.9,439.4L1321.1,443.0L1320.0,440.1L1319.3,437.6ZM1321.1,452.1L1326.6,451.4L1331.3,453.2L1326.6,453.9L1321.8,453.5ZM1313.9,452.8L1317.5,452.5L1318.2,454.6L1314.6,455.0ZM1394.8,461.5L1400.9,459.3L1406.4,456.4L1409.3,456.8L1406.4,461.2L1400.9,463.7L1397.3,463.7ZM1403.8,450.6L1408.2,453.2L1411.8,457.9L1410.7,455.7L1406.4,451.7ZM1418.0,461.2L1422.0,464.8L1420.9,466.2L1417.6,463.0ZM1424.5,466.6L1428.2,469.2L1427.4,470.2ZM1435.4,475.0L1440.1,476.8L1437.2,477.1ZM1439.0,471.3L1441.9,475.7L1440.9,475.3ZM1451.7,514.2L1457.2,517.4L1462.6,522.1L1459.0,521.1L1453.6,516.7ZM1461.2,495.6L1463.3,497.8L1462.6,498.6ZM1500.0,504.7L1504.7,505.5L1503.6,507.3L1500.0,506.9ZM1505.4,501.5L1509.8,500.0L1508.0,502.2ZM1106.3,619.1L1111.7,619.8L1110.7,621.6L1107.0,621.2ZM1057.3,517.1L1059.1,517.8L1058.0,518.5ZM1064.9,514.2L1066.4,514.5L1065.3,515.6ZM1193.0,392.2L1194.1,395.8L1193.4,399.1L1192.3,395.8ZM1196.6,415.1L1197.4,416.5L1196.6,416.2ZM1209.3,436.1L1211.9,438.7L1210.8,439.0ZM1214.8,444.8L1217.0,447.4L1215.9,447.7ZM1238.7,447.4L1242.0,447.0L1243.8,451.7L1241.3,450.6ZM1247.1,451.0L1249.3,451.4L1248.2,452.8ZM795.3,338.1L797.9,337.7L796.4,339.6ZM804.8,337.4L806.6,336.7L805.8,339.2ZM799.3,339.2L800.8,339.2L800.0,340.3ZM763.0,304.0L765.2,304.0L764.1,304.3ZM753.2,301.1L755.0,301.4L754.0,301.8ZM770.7,386.0L771.7,386.4L771.0,387.1ZM830.2,215.4L833.1,215.1L832.0,217.6ZM851.2,221.6L853.0,221.2L851.9,223.8ZM824.0,183.1L827.6,183.1L825.8,184.2ZM1032.6,189.6L1037.4,189.3L1036.3,191.5L1032.6,191.5ZM1070.7,186.0L1076.2,187.1L1072.5,188.2ZM1110.7,175.1L1116.1,174.8L1114.3,176.2ZM1420.2,258.6L1423.4,257.2L1422.0,259.0ZM1408.2,270.6L1410.0,269.5L1409.3,271.0ZM1399.1,275.3L1402.8,273.5L1400.9,275.3ZM1389.7,279.7L1395.5,276.8L1393.7,277.9ZM1384.6,282.2L1387.5,280.0L1386.4,281.5ZM1320.0,346.5L1322.2,343.9L1321.1,345.0ZM1314.6,320.0L1317.1,319.6L1315.7,320.7ZM1449.9,227.0L1454.3,226.3L1451.7,228.8ZM998.9,462.3L1000.0,463.0L999.6,464.4ZM1013.8,482.9L1014.5,484.0L1013.8,484.4Z"/></clipPath>
<clipPath id="frame"><rect x="203.5" y="114.5" width="1306.3" height="544.5"/></clipPath>
<pattern id="hatch" width="60" height="7.5895" patternUnits="userSpaceOnUse" patternTransform="rotate(-18.435) translate(0,5.2)"><rect x="0" y="0" width="60" height="0.85" fill="#000"/></pattern>
</defs>
<g clip-path="url(#frame)">
<path d="M246.7,203.1L252.5,200.9L259.7,199.8L262.6,201.3L269.5,200.9L270.6,199.4L267.0,198.0L261.6,195.4L252.5,192.9L256.1,191.1L265.2,188.9L268.8,186.4L277.9,184.2L288.4,182.4L296.0,183.8L305.1,184.2L312.4,185.5L321.4,186.4L330.5,187.1L337.8,186.7L345.0,188.4L352.3,188.9L359.5,190.9L365.0,190.7L370.4,188.9L377.7,187.8L384.9,186.7L390.4,185.3L394.0,186.4L399.4,188.9L404.9,189.3L406.7,187.1L414.0,187.8L421.2,189.3L432.1,190.7L439.4,191.1L443.0,193.3L439.4,195.1L450.2,195.4L457.5,194.7L462.9,196.2L464.8,193.6L472.0,191.8L479.3,194.4L486.5,195.1L493.8,195.1L499.2,192.9L502.9,192.5L508.3,193.6L510.1,196.9L513.7,194.4L515.6,190.7L508.3,188.9L507.2,186.0L506.5,182.7L511.9,179.8L517.4,180.9L521.0,185.3L524.6,188.6L528.3,192.5L533.7,190.7L537.3,195.1L542.8,196.2L546.4,191.5L546.4,187.8L557.3,188.2L560.9,192.5L559.1,198.0L551.8,200.5L544.6,200.9L544.6,203.1L541.0,204.2L537.3,208.2L528.3,210.7L522.8,213.2L519.2,216.5L514.8,220.1L513.0,223.4L512.7,227.0L519.2,228.1L521.0,233.6L530.1,234.3L537.3,236.1L548.2,240.5L558.0,241.2L558.4,248.8L562.7,252.4L564.5,255.0L568.2,255.3L570.7,252.4L571.4,247.0L568.2,242.6L575.4,239.7L578.3,235.0L578.7,232.5L573.6,228.1L575.4,223.4L573.6,219.8L573.6,215.1L582.7,215.1L589.9,216.1L595.4,218.0L602.6,219.8L602.6,223.4L604.5,227.0L609.9,229.6L615.3,227.8L619.0,225.2L622.2,222.3L626.2,227.0L631.7,232.5L633.5,236.1L638.9,240.8L644.4,243.4L648.7,245.2L653.4,248.8L654.5,252.4L649.8,254.6L643.3,256.1L638.9,258.6L631.7,259.0L624.4,258.6L615.3,259.0L611.7,262.2L606.3,265.1L600.8,269.5L598.3,271.3L602.6,270.6L608.1,265.9L615.3,263.0L622.6,263.3L622.6,265.9L617.2,267.0L620.8,269.5L621.5,273.1L626.2,274.6L631.7,274.9L635.3,276.0L637.5,270.6L639.7,274.2L635.3,276.8L628.0,278.9L622.6,281.5L618.2,283.3L616.4,280.8L620.8,277.9L622.6,276.0L617.2,277.1L613.5,278.6L608.1,280.4L602.6,282.6L600.1,286.2L602.6,289.5L599.0,290.6L593.6,291.6L588.1,293.8L588.1,297.8L584.5,300.0L582.7,298.2L583.8,303.3L580.9,306.9L581.6,310.5L579.1,314.9L574.3,317.8L570.0,320.3L564.5,324.3L561.6,328.7L561.6,332.3L564.5,338.5L566.0,343.9L565.3,349.4L562.7,350.1L559.8,346.1L556.6,340.6L556.6,335.9L552.6,332.3L548.2,333.4L542.8,330.8L537.3,331.2L531.9,331.6L532.6,335.2L528.3,335.2L522.8,333.8L516.3,333.4L511.9,335.2L506.5,338.5L503.6,342.1L503.9,346.8L502.1,352.3L501.8,359.5L503.6,365.0L506.5,369.3L508.3,372.2L511.9,373.7L515.6,375.1L521.0,373.7L524.6,374.0L527.5,371.1L528.6,365.7L530.1,364.2L535.5,363.2L541.0,363.2L541.7,365.7L539.1,370.4L538.4,374.8L536.6,377.7L534.8,383.1L537.3,383.8L542.8,383.8L548.2,383.5L551.8,384.6L554.7,386.8L553.7,392.2L552.9,397.6L552.9,401.3L555.5,404.9L558.4,407.8L562.7,409.3L566.4,407.4L570.0,406.7L573.6,407.4L576.2,410.0L578.0,412.2L580.9,407.4L582.7,403.1L585.2,401.3L589.9,400.2L593.6,398.4L597.2,396.2L597.9,398.7L595.8,401.3L599.0,401.3L600.8,400.2L602.6,397.3L604.5,399.5L608.8,402.0L613.5,403.1L619.0,404.2L624.4,403.1L629.9,402.4L631.7,404.9L635.3,407.4L636.0,410.3L640.7,412.2L644.4,415.8L649.8,419.4L657.1,419.8L662.5,421.2L668.0,424.5L670.5,426.7L673.4,433.9L675.2,438.3L673.4,441.2L680.7,443.0L684.3,443.7L691.5,445.9L695.2,450.3L700.6,449.9L706.1,451.7L711.5,451.4L716.9,454.6L721.3,458.3L726.0,459.7L728.9,461.2L730.4,467.0L729.6,472.1L727.1,476.4L722.4,481.1L718.8,487.7L715.1,493.8L715.1,501.1L713.3,506.5L712.2,512.7L708.6,519.2L705.0,524.0L698.8,524.7L693.4,526.5L687.9,528.7L682.5,533.0L680.3,537.4L680.3,542.8L677.0,546.5L674.1,551.2L669.8,556.6L666.1,561.0L662.5,564.6L657.4,567.9L652.7,567.9L646.9,566.1L644.7,564.6L644.7,566.8L649.1,570.1L649.1,573.3L648.0,579.1L642.6,581.7L635.3,582.8L630.6,582.0L630.6,586.4L629.9,590.0L624.4,590.0L620.8,589.3L620.8,593.7L625.5,595.5L622.6,597.3L619.7,599.1L619.0,604.5L613.5,606.4L611.7,610.0L617.2,612.5L617.9,615.4L611.7,620.9L608.1,623.8L606.3,626.3L608.5,631.0L604.5,631.8L599.7,632.9L599.0,636.5L593.6,635.4L589.9,632.9L586.3,630.0L584.5,624.5L582.7,619.1L582.7,613.6L582.7,610.7L588.1,608.2L589.9,604.5L591.8,600.9L591.8,595.5L589.2,592.9L588.9,588.2L590.7,584.6L589.9,579.1L591.0,575.5L592.8,570.1L595.4,566.4L596.8,561.0L597.2,553.7L597.6,548.3L599.0,542.8L600.5,535.6L601.2,528.3L601.9,521.1L601.9,513.8L601.6,508.0L597.2,504.0L591.8,501.1L584.5,497.5L579.8,492.0L579.8,489.5L576.5,484.8L573.6,478.6L570.7,472.1L567.1,466.6L562.7,463.0L561.6,458.3L564.5,454.3L566.4,452.1L564.5,450.3L563.1,449.2L563.8,444.8L566.0,441.2L566.4,438.3L570.0,436.8L571.1,433.9L574.7,431.8L576.2,426.7L575.4,421.2L575.8,416.9L574.0,415.1L572.5,412.2L571.8,410.7L570.0,408.9L568.2,408.9L566.4,411.1L565.3,414.3L562.7,414.7L561.6,412.9L557.3,411.4L555.5,411.1L552.9,410.0L552.9,408.5L549.3,406.4L547.5,405.6L545.3,403.4L545.7,400.9L542.8,397.6L539.1,394.4L538.4,392.9L533.7,392.6L528.3,390.7L522.8,388.6L517.4,384.2L513.7,382.4L508.3,384.2L502.9,383.5L497.4,380.9L492.0,379.1L486.5,376.2L481.1,374.8L475.6,370.4L473.8,366.8L474.6,363.2L472.0,358.4L468.4,354.1L462.9,349.4L459.7,346.8L458.2,343.2L453.9,339.6L449.5,335.9L446.6,330.5L444.8,327.6L440.1,325.8L440.4,330.5L443.0,334.1L446.6,338.5L449.2,343.2L452.8,347.5L455.0,352.3L458.2,355.9L459.3,357.7L457.5,358.1L454.6,355.5L450.2,351.9L449.2,346.8L444.8,343.9L441.2,340.6L442.3,337.7L437.5,333.4L435.7,329.4L432.8,325.8L431.4,322.5L427.4,318.5L423.0,316.7L419.0,315.6L417.6,312.3L414.0,308.3L412.1,304.3L410.3,302.5L407.4,297.8L405.6,294.5L406.3,288.7L404.9,285.8L406.3,279.7L406.7,273.5L404.2,265.9L410.3,266.2L412.1,268.8L411.1,263.3L408.5,261.5L404.9,259.7L399.4,257.2L394.0,256.1L392.9,251.7L388.6,247.7L383.8,244.1L384.9,240.5L379.5,238.6L376.6,235.0L372.2,231.4L366.8,228.8L361.3,229.6L355.9,226.3L348.6,224.1L341.4,223.4L334.1,223.0L326.9,220.5L319.6,221.6L317.8,223.8L312.4,225.6L305.8,226.3L306.9,223.4L312.4,219.0L306.9,220.5L303.3,223.4L299.7,225.9L297.8,228.8L292.4,232.1L287.0,235.4L281.5,237.9L274.3,239.7L268.8,241.2L263.4,242.3L258.7,243.0L265.2,240.5L270.6,238.3L276.1,236.1L281.5,233.2L285.1,230.7L285.9,227.8L281.5,227.8L276.1,228.1L268.8,228.1L268.8,225.2L267.0,223.4L261.6,223.8L256.8,221.6L256.1,218.0L254.3,216.1L257.9,213.6L259.0,212.1L265.2,212.1L270.6,210.7L273.2,207.1L268.8,207.1L263.4,207.1L256.1,207.1L252.5,206.0ZM591.8,157.3L609.9,150.8L620.8,147.2L638.9,143.5L675.2,141.7L711.5,138.5L747.8,137.7L765.9,139.9L784.1,143.5L791.3,147.2L813.1,145.4L795.0,150.8L787.7,154.4L787.7,159.9L789.5,165.3L784.1,168.9L785.9,172.6L776.8,176.2L776.8,179.8L776.8,185.3L769.6,188.9L760.5,191.8L747.8,194.0L738.7,196.2L733.3,199.8L724.2,202.3L713.3,203.4L709.7,207.1L707.9,212.5L702.4,218.0L698.8,223.4L691.5,222.3L682.5,219.8L677.0,216.1L673.4,212.5L669.8,208.9L666.1,203.4L662.5,198.7L661.4,194.4L671.6,190.7L662.5,188.9L658.9,185.3L660.7,181.7L655.3,178.0L651.6,172.6L644.4,167.1L631.7,164.6L617.2,165.3L606.3,163.5L599.0,160.6ZM620.8,216.5L615.3,216.1L608.1,213.6L599.0,211.4L591.8,207.8L584.5,207.1L575.4,207.8L573.6,205.2L588.1,203.4L589.9,199.8L593.6,196.9L586.3,193.6L575.4,188.9L566.4,187.1L550.0,187.1L537.3,183.5L531.9,178.0L533.7,173.7L548.2,173.3L550.0,178.0L559.1,173.7L566.4,173.7L577.2,176.9L588.1,180.9L599.0,183.5L608.1,186.4L613.5,190.0L615.3,194.4L626.2,196.9L633.5,199.1L629.9,203.4L626.2,206.3L620.8,210.7L609.9,210.0L619.0,214.3ZM439.4,189.6L430.3,185.3L426.7,182.4L432.1,178.0L441.2,175.5L457.5,176.9L468.4,175.5L475.6,176.9L475.6,183.5L486.5,187.1L488.3,190.7L475.6,191.5L464.8,191.8L450.2,192.2ZM401.3,179.1L408.5,183.1L417.6,182.0L424.8,178.0L433.9,174.4L430.3,171.5L417.6,170.8L404.9,171.9L406.7,175.1ZM432.1,168.9L446.6,170.8L464.8,170.4L473.8,167.1L464.8,164.2L450.2,164.6L433.9,164.6ZM410.3,165.3L423.0,166.4L435.7,161.7L424.8,159.9L412.1,162.4ZM479.3,167.9L493.8,168.9L502.9,167.1L501.0,163.5L488.3,162.4L479.3,164.6ZM510.1,179.8L519.2,179.8L528.3,176.2L524.6,172.6L511.9,172.6L508.3,176.2ZM486.5,179.8L497.4,182.4L506.5,178.0L502.9,173.3L492.0,172.6L484.7,176.2ZM495.6,190.7L504.7,192.2L510.1,190.0L506.5,187.5L497.4,187.8ZM508.3,167.1L522.8,170.4L544.6,171.1L564.5,170.4L568.2,167.1L559.1,164.2L533.7,163.5L519.2,162.8L506.5,162.8ZM533.7,163.5L548.2,164.2L566.4,164.6L575.4,161.7L584.5,156.2L591.8,153.7L609.9,149.0L622.6,145.4L631.7,142.5L609.9,139.9L584.5,139.2L559.1,140.6L541.0,143.5L526.4,145.0L537.3,149.0L544.6,152.6L548.2,156.2L539.1,158.8L531.9,161.0ZM510.1,152.6L522.8,157.0L537.3,156.2L541.0,152.6L530.1,149.0L519.2,146.1L506.5,149.0ZM479.3,156.2L497.4,158.8L508.3,156.2L493.8,153.3L475.6,153.3ZM541.0,204.5L548.2,202.0L553.7,202.7L560.9,207.8L564.5,210.0L557.3,211.1L550.0,211.8L541.0,210.0L544.6,207.1ZM555.5,213.2L560.9,212.9L566.4,215.1L557.3,215.8ZM641.5,267.7L645.5,263.3L648.7,257.9L653.8,253.9L655.3,257.9L651.6,259.7L655.3,261.5L662.5,262.2L664.3,265.1L665.4,268.8L663.6,272.0L658.9,271.0L654.2,271.0L653.4,268.4L648.0,268.4ZM622.6,260.1L629.9,261.2L632.8,263.0L626.2,262.2ZM623.3,271.3L628.0,272.8L631.7,272.8L628.8,274.2L624.4,273.1ZM391.1,256.8L399.4,258.2L404.9,261.5L408.9,265.5L404.9,265.1L399.4,262.2L392.9,259.3ZM374.0,244.5L378.4,245.2L379.5,248.8L381.3,252.4L376.6,249.5ZM296.0,232.5L301.5,230.7L305.1,232.1L302.2,234.3L297.8,235.0ZM249.6,222.7L255.0,222.3L255.4,224.1L251.4,224.1ZM233.6,211.1L239.8,210.3L244.1,211.8L238.7,212.5ZM258.7,241.9L264.1,241.6L263.4,243.4L259.0,243.7ZM247.8,247.0L253.2,245.2L253.2,246.6L248.9,248.1ZM243.4,248.8L247.0,247.0L247.4,248.1L244.1,249.5ZM221.6,252.1L225.3,251.4L225.3,252.4L221.6,252.8ZM214.4,252.8L216.9,252.4L216.9,253.9L214.4,253.9ZM371.1,236.8L375.9,237.9L377.7,241.6L374.0,242.3L371.9,239.7ZM362.1,229.9L366.8,230.7L368.6,234.3L367.9,237.2L364.6,234.3ZM601.6,632.5L607.7,632.5L609.2,634.7L613.5,637.9L620.1,639.8L615.3,641.2L608.1,641.9L602.6,642.3L597.2,640.1L595.4,637.9L600.8,637.2L602.6,635.0ZM587.4,593.3L589.9,593.3L589.9,598.4L587.0,598.4ZM634.2,628.1L638.9,627.4L640.0,630.0L636.0,630.7ZM640.7,627.8L646.9,628.1L645.1,630.0L641.5,631.0ZM718.0,637.2L723.1,637.9L726.7,640.1L723.1,639.8ZM548.6,361.7L555.5,358.1L559.1,357.0L564.5,357.3L570.0,359.9L575.4,362.1L580.9,364.6L587.4,367.9L582.7,369.0L574.7,369.3L576.5,366.4L571.8,365.0L568.2,362.4L562.7,361.0L559.1,359.9L553.7,360.6ZM586.7,374.4L591.8,374.0L593.6,373.7L590.7,369.7L595.4,369.0L602.6,369.3L608.5,373.7L604.5,374.4L599.0,376.9L595.4,375.5ZM572.5,374.4L579.8,375.5L575.4,376.6ZM612.8,374.0L618.6,374.8L617.2,376.0L612.8,375.9ZM632.0,402.4L635.3,402.0L635.3,404.5L632.0,404.5ZM572.5,350.1L574.3,350.1L575.1,353.4L572.9,353.0ZM290.6,367.9L294.2,369.7L292.0,372.6L290.6,370.4ZM288.0,365.0L290.6,365.7L289.1,366.4ZM282.2,362.8L284.4,363.5L283.0,363.9ZM276.8,360.6L278.6,361.0L277.9,361.7ZM524.6,442.3L526.8,443.4L525.7,444.8ZM824.0,306.9L824.7,301.4L822.2,300.4L824.7,294.2L824.7,288.7L822.9,285.1L827.6,282.6L834.9,282.9L842.1,283.7L850.1,283.7L851.9,279.7L852.3,274.2L848.7,269.9L840.3,267.3L839.6,265.1L845.8,264.1L850.8,264.8L850.5,260.8L855.9,262.2L857.4,260.8L862.1,259.3L862.5,256.4L867.5,255.0L871.2,252.4L873.7,248.8L878.4,247.4L882.0,246.6L887.5,245.9L888.2,242.3L886.4,239.7L886.0,234.3L891.1,233.6L894.7,231.7L894.0,236.1L895.8,237.2L892.2,240.5L892.9,243.4L896.6,245.2L902.0,243.7L907.4,245.2L916.5,243.4L923.8,242.6L927.4,243.7L929.2,241.9L932.8,239.7L932.8,235.0L935.4,232.1L940.1,234.3L944.8,232.5L944.8,229.6L941.9,226.3L949.2,224.9L958.2,225.2L966.2,223.8L960.1,221.2L951.0,221.9L940.1,223.8L934.7,221.2L933.9,216.9L933.9,212.5L940.1,208.9L947.4,205.2L948.5,203.1L943.7,202.3L936.5,203.8L933.9,207.1L931.0,210.0L923.8,212.5L920.1,216.1L919.1,220.5L923.8,222.7L924.9,225.2L920.1,227.8L917.2,232.5L914.7,236.8L909.3,237.9L908.2,240.1L903.8,240.1L902.7,237.2L899.5,232.5L897.3,227.0L895.1,224.5L891.1,227.8L885.7,230.3L882.0,230.7L877.0,227.8L874.8,223.4L874.8,218.0L875.9,215.4L882.0,212.5L889.3,210.0L894.7,207.1L900.2,203.4L903.8,199.8L909.3,196.2L912.9,193.3L918.3,190.7L925.6,187.8L934.7,186.4L941.9,184.6L950.3,183.1L958.2,183.5L965.5,185.3L969.1,186.0L965.5,188.2L976.4,189.3L987.3,190.4L994.5,192.5L1003.6,195.1L1006.1,198.7L1001.8,200.9L994.5,201.3L983.6,199.8L976.4,198.7L980.0,200.9L983.6,207.4L990.9,209.2L994.5,207.1L1001.8,206.7L1001.8,203.4L1009.0,200.2L1016.3,200.5L1017.0,196.2L1016.3,192.5L1023.6,193.3L1023.6,198.0L1030.8,195.8L1041.7,192.9L1052.6,193.3L1056.2,192.5L1067.1,191.5L1076.2,190.7L1076.2,187.8L1088.9,189.6L1097.9,190.7L1099.8,192.5L1105.2,193.3L1099.8,188.9L1099.8,183.5L1105.2,178.0L1110.7,176.2L1119.7,176.9L1120.8,181.7L1119.7,187.1L1123.4,192.5L1117.9,198.0L1123.4,196.2L1127.0,190.7L1125.2,183.5L1128.8,178.0L1137.9,179.8L1146.9,179.8L1154.2,180.6L1157.8,185.3L1157.8,181.7L1148.8,174.4L1168.7,172.6L1172.3,168.9L1183.2,166.8L1201.4,165.0L1219.5,163.5L1234.0,159.1L1244.9,161.7L1263.1,163.5L1268.5,167.1L1255.8,172.6L1263.1,173.7L1270.3,174.0L1288.5,176.2L1304.8,174.4L1317.5,174.4L1326.6,178.0L1324.7,183.5L1332.0,184.2L1339.3,181.7L1353.8,182.0L1364.7,178.0L1368.3,176.9L1386.4,178.8L1400.9,181.7L1408.2,183.8L1422.7,183.5L1437.2,187.1L1440.9,188.9L1451.7,188.2L1466.3,187.1L1475.3,190.7L1477.1,187.5L1495.3,187.8L1509.8,191.1L1509.8,205.2L1506.2,206.3L1500.7,206.3L1504.4,210.7L1508.0,214.3L1498.9,214.3L1489.8,216.9L1480.8,219.8L1475.3,223.4L1466.3,221.6L1459.0,222.3L1453.6,223.8L1449.9,227.0L1448.1,230.7L1444.5,232.5L1448.8,237.2L1444.5,241.6L1440.9,243.4L1437.2,248.1L1431.8,249.5L1428.2,254.3L1425.2,256.1L1422.7,250.6L1421.6,245.2L1421.3,237.9L1424.5,233.2L1430.0,229.9L1437.2,225.2L1444.5,221.6L1449.9,218.0L1451.7,214.3L1444.5,216.1L1437.2,219.8L1426.3,217.2L1419.1,225.2L1411.8,226.7L1404.6,225.2L1397.3,225.2L1386.4,225.9L1375.5,225.9L1366.5,230.7L1357.4,236.1L1350.1,241.6L1355.6,245.2L1362.8,244.5L1368.3,247.7L1369.4,251.7L1366.5,256.1L1366.5,261.5L1364.7,267.0L1359.2,272.4L1353.8,277.9L1348.3,281.5L1341.1,285.8L1335.6,284.4L1331.3,286.9L1327.6,290.6L1326.6,293.1L1321.1,296.0L1319.3,298.5L1322.9,301.4L1326.2,306.9L1326.6,311.2L1324.7,313.8L1319.3,315.2L1314.9,316.0L1315.7,312.3L1315.7,306.9L1310.2,303.3L1311.3,297.8L1307.7,296.0L1301.2,297.8L1297.5,300.0L1299.3,294.2L1295.7,292.7L1290.3,296.7L1284.8,298.9L1283.7,301.4L1288.5,305.1L1293.9,304.3L1301.2,305.4L1295.7,308.7L1292.8,310.5L1289.5,314.1L1293.2,317.8L1295.7,323.2L1298.6,326.9L1298.6,329.4L1293.9,331.2L1299.3,333.0L1297.5,337.7L1293.9,342.5L1291.0,346.8L1287.4,351.2L1283.0,354.8L1279.4,357.7L1272.1,359.5L1268.5,360.6L1263.1,362.4L1257.6,364.2L1256.9,367.5L1254.7,363.9L1250.4,362.4L1244.9,365.0L1241.3,370.4L1241.3,374.0L1244.9,379.5L1250.4,383.8L1252.9,390.4L1253.3,395.8L1252.2,399.5L1246.7,403.1L1243.8,404.9L1243.1,406.7L1237.7,409.6L1236.9,404.9L1232.2,402.7L1228.6,397.6L1223.1,395.1L1221.3,392.2L1219.5,395.8L1217.7,401.3L1216.6,406.7L1219.5,410.3L1221.3,415.1L1225.0,416.5L1228.6,419.4L1231.8,423.8L1232.2,430.3L1234.7,436.1L1232.2,436.5L1226.8,432.9L1224.2,430.3L1221.3,424.9L1220.6,419.4L1217.7,415.1L1214.1,411.4L1213.3,406.7L1214.8,401.3L1214.1,395.8L1213.0,390.4L1211.2,384.9L1210.8,381.3L1205.0,381.3L1201.4,383.8L1198.8,383.1L1199.6,377.7L1197.7,372.2L1194.1,368.6L1190.5,363.2L1188.7,359.5L1185.0,359.5L1181.4,362.1L1176.0,362.4L1172.3,365.0L1170.5,368.6L1165.1,370.4L1159.6,375.9L1156.0,379.5L1150.6,383.1L1147.7,386.8L1147.7,392.2L1146.9,397.6L1146.2,403.8L1143.3,406.7L1140.4,409.3L1137.9,411.8L1134.2,408.5L1132.4,403.1L1128.8,395.8L1127.0,390.4L1123.4,383.1L1121.5,375.9L1120.8,370.4L1120.4,365.0L1119.7,361.3L1117.9,365.0L1112.5,365.7L1107.0,361.3L1108.8,358.4L1105.2,355.9L1101.6,354.1L1099.8,351.2L1097.9,349.0L1090.7,349.7L1081.6,350.1L1076.2,349.4L1068.9,348.6L1063.5,345.0L1061.7,343.2L1054.4,344.6L1049.0,343.2L1043.5,339.9L1039.9,335.9L1038.1,332.3L1034.4,330.8L1030.8,333.0L1032.6,337.7L1036.3,341.4L1038.8,345.0L1041.0,348.6L1043.5,346.8L1043.9,350.4L1043.5,353.0L1049.0,353.7L1054.4,353.0L1058.0,348.6L1060.9,346.1L1061.7,350.4L1063.5,354.1L1069.6,355.9L1073.6,359.5L1069.6,366.8L1066.4,372.2L1061.7,375.9L1056.2,379.5L1049.0,381.3L1046.1,384.6L1038.1,387.5L1032.6,390.4L1025.4,392.6L1019.9,394.7L1014.5,395.1L1012.7,390.4L1012.0,384.9L1010.9,380.2L1007.2,375.9L1003.6,370.4L998.9,365.0L996.3,357.7L992.0,352.3L989.1,346.8L985.5,341.4L982.9,337.7L983.6,334.1L981.1,339.6L978.2,337.7L974.9,332.7L973.9,327.9L980.0,327.6L981.8,326.5L983.6,322.1L985.5,318.1L986.6,312.3L987.3,308.7L983.6,308.0L980.0,309.4L974.6,310.2L968.0,307.6L963.7,309.8L958.2,308.0L955.7,306.9L954.6,302.2L952.8,298.5L951.7,296.0L956.4,294.5L961.9,293.8L961.9,291.6L958.2,292.4L952.8,293.8L951.0,293.1L945.5,293.1L941.9,294.9L939.4,294.5L939.4,297.8L941.2,301.4L943.7,303.3L940.1,305.1L940.1,308.7L936.5,308.0L934.7,305.1L933.6,302.2L931.0,297.8L927.4,294.2L927.4,289.8L923.8,286.9L918.3,284.4L912.9,281.5L909.3,277.1L906.4,275.7L901.3,276.8L902.0,280.4L906.0,283.3L909.3,287.7L914.7,289.5L920.1,293.1L923.8,295.3L918.3,294.5L916.9,297.8L918.7,299.6L915.1,303.3L913.6,303.3L914.7,299.6L912.9,296.0L909.3,293.5L903.8,291.3L900.9,289.5L896.6,286.9L894.0,283.3L892.2,281.1L888.6,280.0L883.9,282.2L878.4,284.7L873.0,283.7L868.3,285.1L868.3,288.7L864.6,291.3L859.6,293.5L855.6,297.8L857.4,300.7L854.1,304.0L849.4,307.6L840.7,308.0L837.1,310.2L833.8,308.3L831.2,306.2ZM203.5,191.1L214.4,193.3L228.9,198.0L239.8,200.9L236.2,203.4L228.9,207.8L219.8,206.0L210.8,203.4L207.1,200.9L203.5,205.2ZM835.2,311.2L837.4,310.9L845.8,313.1L853.0,311.2L860.3,308.7L867.5,307.3L874.8,307.6L883.9,306.9L892.2,305.8L896.6,306.9L894.7,310.5L896.6,314.1L892.9,317.8L896.6,320.7L903.8,321.8L911.8,323.6L913.6,327.6L920.1,329.4L925.6,331.2L929.2,328.7L929.2,324.0L934.7,321.8L940.1,322.9L947.4,326.1L954.6,327.6L961.9,329.0L965.5,327.6L969.1,326.5L973.9,327.9L974.9,332.7L975.7,337.7L979.3,343.2L981.8,348.6L985.5,354.1L986.2,357.7L990.9,363.2L992.0,368.6L992.7,374.0L996.3,375.9L999.3,383.8L1005.4,388.6L1010.9,394.0L1013.8,397.6L1012.7,399.5L1016.3,403.1L1021.7,402.4L1027.2,400.9L1034.4,400.2L1042.4,398.4L1041.7,403.1L1039.9,408.5L1036.3,415.8L1032.6,423.1L1027.2,428.5L1021.7,433.6L1016.3,437.6L1010.9,443.0L1007.2,447.7L1003.6,450.3L1000.7,455.7L998.2,461.2L998.2,464.8L1000.0,470.2L1000.0,475.7L1003.2,479.3L1004.0,486.6L1004.3,493.8L1001.8,499.3L996.3,503.6L990.9,506.5L987.3,510.2L983.6,513.8L984.7,519.2L985.5,524.7L984.7,528.3L978.2,532.7L975.3,535.6L975.7,541.0L973.9,545.7L969.1,550.1L965.5,555.5L960.1,559.9L954.6,562.8L949.9,564.6L941.9,565.0L936.5,565.3L929.2,567.5L923.8,565.7L923.1,561.0L922.7,557.4L920.1,551.9L917.6,546.5L913.6,541.0L911.1,535.6L909.3,528.3L909.3,522.9L905.6,517.4L902.0,510.2L899.5,504.7L899.5,499.3L901.3,493.8L905.6,486.6L906.7,481.1L904.5,473.9L902.0,466.6L901.3,463.0L900.2,459.3L896.6,455.0L892.9,451.0L890.0,446.6L888.6,443.7L891.1,440.1L891.5,435.8L892.2,432.1L891.8,428.5L889.3,425.6L887.5,424.5L882.0,425.2L878.4,425.6L874.8,421.2L873.0,418.3L869.0,418.0L862.1,418.7L856.6,420.5L853.0,422.3L849.4,423.8L843.9,422.7L838.5,422.3L833.1,424.1L829.4,425.2L824.0,423.1L818.5,418.7L814.9,416.2L811.3,414.0L808.8,410.3L808.4,406.7L804.0,403.1L802.2,401.3L798.6,397.6L795.7,395.8L795.7,392.2L793.1,387.8L796.8,383.1L797.5,375.9L797.9,370.4L795.0,365.0L798.6,355.9L804.0,346.8L809.5,340.6L814.9,337.7L820.4,334.1L821.5,330.5L821.1,326.9L824.0,322.1L829.1,319.2L833.1,316.7ZM1035.5,484.8L1039.2,495.6L1038.1,499.3L1036.3,504.7L1032.6,513.8L1030.1,522.9L1027.2,532.0L1021.7,533.8L1016.3,532.0L1014.5,526.5L1014.5,521.1L1017.4,515.6L1016.3,510.2L1017.0,504.7L1019.9,499.3L1025.4,497.5L1030.1,493.8L1032.6,489.1ZM1268.5,521.1L1272.1,520.3L1277.6,516.7L1284.8,514.9L1290.3,513.8L1295.7,512.0L1300.4,506.5L1301.2,502.9L1304.8,504.0L1306.6,500.4L1310.2,495.6L1315.7,492.0L1321.1,494.9L1326.6,494.9L1327.3,490.2L1331.3,486.2L1335.6,484.8L1337.4,482.2L1342.9,484.8L1348.3,484.8L1353.0,485.5L1350.1,490.2L1348.3,495.6L1353.8,498.9L1361.0,502.9L1366.5,504.7L1370.1,497.5L1370.8,490.2L1371.2,484.8L1373.7,480.0L1377.4,486.6L1378.4,492.7L1383.9,495.6L1384.6,501.1L1387.1,508.4L1391.9,512.0L1395.5,514.5L1399.1,519.2L1403.5,523.6L1404.6,527.6L1410.0,532.0L1412.5,535.6L1412.9,541.0L1414.0,545.4L1411.8,551.9L1410.7,557.4L1406.4,562.1L1403.8,568.2L1400.9,573.7L1400.6,577.3L1393.7,578.8L1388.2,582.0L1382.8,580.2L1377.4,582.0L1370.1,580.2L1364.7,577.3L1362.8,571.9L1359.2,570.4L1359.2,566.4L1356.7,569.0L1356.7,561.0L1352.0,564.6L1348.7,567.9L1344.7,561.7L1341.1,557.7L1333.8,555.5L1324.7,555.9L1315.7,558.4L1308.4,561.0L1304.8,564.3L1297.5,564.3L1290.3,566.1L1284.8,568.2L1277.6,567.5L1274.3,565.7L1273.9,562.8L1276.5,557.4L1274.7,551.9L1272.5,545.7L1270.3,540.3L1268.5,535.6L1269.6,530.1L1268.1,528.3ZM1381.7,588.9L1388.2,590.4L1394.8,589.7L1394.8,593.7L1393.0,598.0L1388.2,599.5L1384.6,596.6L1382.8,592.9ZM1483.3,566.1L1486.2,568.2L1489.8,571.9L1490.9,575.1L1493.5,574.1L1495.3,577.7L1500.7,578.8L1504.4,578.1L1502.5,581.7L1498.9,583.9L1498.9,586.4L1495.3,590.0L1492.4,592.2L1490.9,591.1L1491.7,588.2L1491.7,586.4L1488.0,584.6L1490.2,582.0L1490.9,579.1L1489.8,575.5L1488.0,572.6L1484.4,568.2ZM1483.3,588.2L1486.2,590.0L1489.1,591.8L1488.0,593.7L1484.4,597.3L1483.7,599.5L1479.0,601.6L1477.1,604.5L1476.1,607.8L1471.7,610.4L1467.3,610.4L1464.4,608.9L1460.8,608.2L1461.9,604.5L1466.3,600.9L1471.7,598.4L1477.1,595.5L1480.0,591.8L1480.8,589.3ZM1332.0,444.1L1337.4,442.7L1342.9,444.1L1344.7,450.3L1348.3,453.2L1353.8,448.5L1357.4,447.0L1364.7,449.5L1368.3,450.6L1375.5,453.5L1381.0,455.4L1385.7,458.6L1386.4,461.2L1391.9,463.0L1393.0,465.5L1390.1,466.6L1393.7,470.2L1397.3,473.9L1400.9,477.5L1403.8,479.3L1400.9,479.7L1395.5,478.2L1390.8,475.7L1386.4,471.3L1382.1,469.2L1377.4,471.0L1375.5,474.6L1371.9,474.6L1368.3,474.2L1362.8,470.6L1357.4,471.7L1360.3,466.6L1359.2,463.0L1355.6,459.3L1350.1,457.5L1344.7,455.7L1339.3,455.7L1338.5,452.1L1335.6,451.4L1341.1,449.5L1335.6,448.5L1332.0,446.3ZM1252.2,435.8L1254.3,433.9L1259.4,435.0L1261.2,431.4L1266.7,429.6L1270.3,424.9L1273.9,423.1L1277.6,419.4L1280.5,415.8L1283.0,417.6L1284.8,420.1L1289.2,422.0L1286.6,424.9L1284.1,426.7L1283.0,430.3L1284.8,433.9L1288.5,437.6L1284.8,438.3L1283.0,441.2L1283.0,444.8L1279.4,447.7L1278.7,452.1L1277.6,455.7L1272.8,456.1L1272.1,453.5L1266.7,452.8L1262.0,453.5L1257.6,452.1L1255.8,447.7L1252.9,444.1L1252.2,440.1ZM1202.5,420.9L1210.4,422.3L1213.3,426.7L1217.7,429.6L1221.3,433.2L1225.0,435.0L1230.4,439.4L1233.3,443.0L1235.8,446.6L1237.7,449.5L1241.3,452.1L1241.3,457.5L1240.6,462.3L1235.8,462.3L1232.2,459.0L1227.9,455.4L1223.1,450.3L1221.0,444.8L1217.0,440.5L1214.8,435.0L1210.4,432.1L1206.8,427.8L1203.2,423.8ZM1238.4,465.9L1241.3,462.6L1244.9,462.6L1250.4,464.8L1257.6,464.8L1259.4,464.4L1265.6,466.2L1271.8,469.5L1272.1,472.8L1266.7,471.3L1259.4,471.0L1252.2,469.2L1246.7,469.2L1242.7,468.1ZM1291.4,438.3L1295.0,436.5L1299.3,437.6L1304.8,437.9L1310.2,435.4L1308.4,439.7L1303.0,439.7L1297.5,439.4L1293.9,439.7L1292.1,443.0L1295.7,445.6L1301.2,444.1L1304.4,444.5L1301.2,447.4L1298.2,448.5L1300.4,452.1L1302.2,455.7L1303.0,459.3L1299.3,458.6L1297.5,455.7L1295.7,452.1L1293.2,453.9L1293.5,459.3L1291.4,461.5L1289.9,455.7L1288.5,452.1L1289.5,446.6L1291.4,443.7ZM1293.9,374.0L1300.1,374.0L1300.4,379.5L1298.2,383.8L1298.2,388.6L1301.2,389.7L1306.6,392.2L1306.6,395.1L1303.0,392.2L1299.3,391.5L1295.7,391.5L1294.3,388.6L1292.1,384.9L1293.2,381.3ZM1299.3,415.8L1303.0,410.3L1308.4,410.3L1312.0,406.7L1314.9,410.3L1315.7,415.8L1313.9,418.3L1312.0,420.5L1310.2,419.4L1306.6,417.6L1306.6,414.0L1303.0,414.0ZM1307.7,395.8L1311.3,395.8L1312.8,400.5L1310.2,404.2L1308.4,402.0L1309.5,399.5ZM1299.3,398.4L1303.0,399.5L1303.0,402.7L1299.3,403.1ZM1301.2,404.9L1304.8,402.0L1304.1,407.8L1302.2,407.4ZM1281.9,410.7L1284.8,407.4L1290.3,402.0L1291.0,403.4L1286.6,408.5L1283.0,411.1ZM1293.5,392.6L1297.2,392.9L1296.8,396.6L1295.0,396.2ZM1297.5,349.7L1299.0,352.3L1296.8,357.7L1295.0,361.3L1292.8,358.4L1292.8,354.8L1295.7,350.4ZM1251.1,371.5L1254.0,368.6L1258.3,368.6L1259.4,370.4L1256.9,374.0L1254.0,375.1L1251.1,373.7ZM1146.9,405.6L1151.3,410.3L1153.5,414.7L1152.4,418.0L1148.8,419.8L1146.6,417.6L1146.2,412.2ZM1369.4,290.9L1370.1,294.2L1371.9,297.8L1370.1,302.2L1368.3,306.9L1367.2,310.5L1364.7,314.1L1363.6,312.3L1361.0,314.1L1358.1,315.6L1353.8,315.6L1353.0,316.7L1350.1,319.6L1346.9,316.7L1342.9,316.0L1337.4,317.1L1332.0,317.8L1332.0,316.0L1337.4,312.7L1342.9,312.3L1348.3,312.0L1350.1,309.8L1353.0,305.8L1354.9,306.9L1359.2,305.8L1362.8,301.4L1364.7,296.7L1364.7,293.8L1365.7,291.6ZM1364.7,290.6L1365.7,285.1L1369.4,284.0L1370.8,277.9L1371.9,276.0L1375.5,279.7L1381.0,281.5L1383.9,280.4L1384.6,284.0L1379.2,285.5L1376.6,288.7L1371.2,286.6L1368.3,287.7L1366.5,286.9L1368.3,289.5L1365.7,290.9ZM1331.6,318.1L1334.5,319.6L1335.6,322.1L1333.8,326.9L1332.0,328.7L1330.2,327.9L1329.1,324.3L1327.6,322.5L1327.3,320.0L1329.8,319.2ZM1337.4,317.8L1342.9,316.3L1345.4,318.5L1343.6,320.3L1340.3,320.0L1338.5,322.1L1337.1,320.0ZM1371.9,244.1L1375.5,248.8L1376.6,254.3L1377.4,259.7L1381.7,263.3L1375.5,263.3L1374.8,268.8L1377.4,271.3L1377.4,274.2L1373.7,271.7L1371.9,274.2L1371.9,267.0L1372.6,259.7L1370.8,254.3L1371.2,247.7ZM836.0,259.7L843.9,258.6L851.2,257.5L857.7,257.2L861.7,255.3L859.6,254.3L862.8,250.3L857.7,248.8L856.6,246.6L854.8,243.4L851.2,241.6L849.4,238.6L845.8,237.9L847.6,236.1L849.4,232.5L843.9,231.7L842.1,232.1L844.7,228.8L838.5,228.5L836.7,231.4L835.6,235.0L836.7,237.9L838.5,240.5L839.2,242.3L843.9,241.9L845.0,245.2L845.8,247.4L840.3,247.7L840.3,249.5L842.1,251.4L837.8,253.2L843.9,254.3L846.9,254.3L841.4,255.3ZM834.9,251.7L834.9,247.7L836.7,243.7L834.9,240.8L829.4,240.5L825.8,243.0L820.4,244.5L820.4,247.4L824.0,248.1L821.1,250.6L818.9,252.4L821.1,254.3L826.5,253.2L831.2,252.1ZM769.6,203.4L775.0,200.2L780.4,203.4L789.5,201.3L798.6,199.8L803.3,201.6L807.3,205.2L802.2,207.8L795.0,209.6L787.7,211.1L780.4,209.6L774.3,209.6L776.8,207.8L769.6,205.6L776.8,204.5ZM896.6,152.6L907.4,150.8L918.3,150.8L929.2,150.1L954.6,150.1L947.4,153.3L929.2,154.4L934.7,158.1L925.6,159.9L918.3,163.1L911.1,161.0L905.6,158.1L896.6,154.4ZM1043.5,183.5L1050.8,184.2L1058.0,184.6L1065.3,184.6L1061.7,179.8L1059.8,175.1L1068.9,170.8L1078.0,167.1L1092.5,164.2L1105.2,162.1L1096.1,161.7L1081.6,164.2L1067.1,167.1L1058.0,170.8L1052.6,175.1L1047.1,179.8ZM1205.0,153.7L1215.9,158.1L1232.2,157.0L1237.7,153.3L1223.1,150.8L1208.6,147.2L1190.5,149.7ZM1355.6,167.1L1361.0,165.0L1375.5,166.0L1382.8,167.5L1371.9,169.3L1361.0,170.0ZM1364.7,174.8L1377.4,175.5L1371.9,172.9ZM1390.1,168.2L1402.8,168.6L1397.3,170.0ZM1504.4,183.5L1509.8,181.7L1509.8,183.8ZM1027.2,149.0L1041.7,147.9L1038.1,150.1ZM1049.0,149.7L1067.1,149.0L1074.4,147.2L1081.6,148.3L1063.5,145.0L1052.6,147.2ZM902.0,303.3L912.9,302.5L911.8,307.6L903.8,306.2ZM886.4,292.4L891.8,292.4L891.5,298.9L887.5,299.6ZM888.2,286.6L891.1,285.1L890.8,290.6L888.6,290.2ZM942.3,312.3L952.1,313.1L951.0,314.1L942.3,313.4ZM973.9,314.1L981.8,312.0L980.0,314.5L975.7,315.6ZM865.4,297.5L869.0,296.7L867.5,298.5ZM896.6,239.0L902.0,237.9L901.3,240.8L897.3,240.8ZM922.7,233.2L926.3,231.0L924.9,234.3ZM1050.1,395.5L1054.4,395.5L1052.6,396.6ZM1304.8,478.6L1310.2,474.6L1317.5,471.7L1315.7,473.9L1308.4,477.9ZM1291.4,472.1L1297.5,471.7L1303.0,471.3L1299.3,473.1L1292.1,473.1ZM1280.5,472.1L1284.8,471.0L1288.5,472.1L1284.8,473.5L1281.2,473.9ZM1272.1,471.0L1276.5,471.0L1280.1,471.7L1277.6,473.5L1273.9,472.8ZM1288.5,475.7L1293.9,476.4L1292.1,478.6L1289.2,476.8ZM1319.3,433.9L1321.1,437.6L1323.6,435.8L1322.9,439.4L1321.1,443.0L1320.0,440.1L1319.3,437.6ZM1321.1,452.1L1326.6,451.4L1331.3,453.2L1326.6,453.9L1321.8,453.5ZM1313.9,452.8L1317.5,452.5L1318.2,454.6L1314.6,455.0ZM1394.8,461.5L1400.9,459.3L1406.4,456.4L1409.3,456.8L1406.4,461.2L1400.9,463.7L1397.3,463.7ZM1403.8,450.6L1408.2,453.2L1411.8,457.9L1410.7,455.7L1406.4,451.7ZM1418.0,461.2L1422.0,464.8L1420.9,466.2L1417.6,463.0ZM1424.5,466.6L1428.2,469.2L1427.4,470.2ZM1435.4,475.0L1440.1,476.8L1437.2,477.1ZM1439.0,471.3L1441.9,475.7L1440.9,475.3ZM1451.7,514.2L1457.2,517.4L1462.6,522.1L1459.0,521.1L1453.6,516.7ZM1461.2,495.6L1463.3,497.8L1462.6,498.6ZM1500.0,504.7L1504.7,505.5L1503.6,507.3L1500.0,506.9ZM1505.4,501.5L1509.8,500.0L1508.0,502.2ZM1106.3,619.1L1111.7,619.8L1110.7,621.6L1107.0,621.2ZM1057.3,517.1L1059.1,517.8L1058.0,518.5ZM1064.9,514.2L1066.4,514.5L1065.3,515.6ZM1193.0,392.2L1194.1,395.8L1193.4,399.1L1192.3,395.8ZM1196.6,415.1L1197.4,416.5L1196.6,416.2ZM1209.3,436.1L1211.9,438.7L1210.8,439.0ZM1214.8,444.8L1217.0,447.4L1215.9,447.7ZM1238.7,447.4L1242.0,447.0L1243.8,451.7L1241.3,450.6ZM1247.1,451.0L1249.3,451.4L1248.2,452.8ZM795.3,338.1L797.9,337.7L796.4,339.6ZM804.8,337.4L806.6,336.7L805.8,339.2ZM799.3,339.2L800.8,339.2L800.0,340.3ZM763.0,304.0L765.2,304.0L764.1,304.3ZM753.2,301.1L755.0,301.4L754.0,301.8ZM770.7,386.0L771.7,386.4L771.0,387.1ZM830.2,215.4L833.1,215.1L832.0,217.6ZM851.2,221.6L853.0,221.2L851.9,223.8ZM824.0,183.1L827.6,183.1L825.8,184.2ZM1032.6,189.6L1037.4,189.3L1036.3,191.5L1032.6,191.5ZM1070.7,186.0L1076.2,187.1L1072.5,188.2ZM1110.7,175.1L1116.1,174.8L1114.3,176.2ZM1420.2,258.6L1423.4,257.2L1422.0,259.0ZM1408.2,270.6L1410.0,269.5L1409.3,271.0ZM1399.1,275.3L1402.8,273.5L1400.9,275.3ZM1389.7,279.7L1395.5,276.8L1393.7,277.9ZM1384.6,282.2L1387.5,280.0L1386.4,281.5ZM1320.0,346.5L1322.2,343.9L1321.1,345.0ZM1314.6,320.0L1317.1,319.6L1315.7,320.7ZM1449.9,227.0L1454.3,226.3L1451.7,228.8ZM998.9,462.3L1000.0,463.0L999.6,464.4ZM1013.8,482.9L1014.5,484.0L1013.8,484.4Z" fill="#d2d2d4"/>
<g clip-path="url(#land)">
<path d="M475.6,223.4L247.0,223.4L247.0,177.8L475.6,177.8Z" fill="#c6a25f"/>
<path d="M820.4,259.7L475.6,259.7L475.6,132.7L820.4,132.7Z" fill="#52330f"/>
<path d="M475.6,337.5L384.9,337.5L384.9,223.4L475.6,223.4Z" fill="#8b5e24"/>
<path d="M548.2,259.7L548.2,337.5L475.6,337.5L475.6,259.7Z" fill="#79ada3"/>
<path d="M638.9,350.4L548.2,350.4L548.2,259.7L638.9,259.7Z" fill="#79ada3"/>
<path d="M607.0,399.7L567.3,445.7L427.3,337.5L528.9,337.5Z" fill="#c6a25f"/>
<path d="M675.2,513.8L615.8,513.8L567.3,445.7L607.0,399.7L675.2,399.7Z" fill="#bee0d9"/>
<path d="M733.3,513.8L675.2,513.8L675.2,441.2L733.3,441.2Z" fill="#3f6d67"/>
<path d="M567.3,445.7L615.8,513.8L594.9,622.7L612.3,647.0L559.0,647.0L559.0,439.3Z" fill="#c6a25f"/>
<path d="M713.8,513.8L713.8,647.0L612.3,647.0L594.9,622.7L615.8,513.8Z" fill="#79ada3"/>
<path d="M820.4,267.0L820.4,168.9L1001.8,168.9L1001.8,218.6Z" fill="#8b5e24"/>
<path d="M820.4,277.9L820.4,267.0L1001.8,218.6L1001.8,277.9Z" fill="#bee0d9"/>
<path d="M820.4,332.3L820.4,277.9L1001.8,277.9L1001.8,332.3Z" fill="#c6a25f"/>
<path d="M784.1,482.5L784.1,386.8L947.4,386.8L947.4,482.5Z" fill="#3f6d67"/>
<path d="M947.4,482.5L947.4,386.8L1045.3,386.8L1045.3,482.5Z" fill="#bee0d9"/>
<path d="M820.4,568.2L820.4,482.5L1045.3,482.5L1045.3,568.2Z" fill="#8b5e24"/>
<path d="M1001.8,259.7L1001.8,187.1L1509.8,187.1L1509.8,259.7Z" fill="#8b5e24"/>
<path d="M1001.8,386.8L1001.8,259.7L1074.4,259.7L1074.4,386.8Z" fill="#79ada3"/>
<path d="M1074.4,332.3L1074.4,259.7L1128.8,259.7L1128.8,332.3Z" fill="#c6a25f"/>
<path d="M1128.8,332.3L1128.8,259.7L1219.5,259.7L1219.5,332.3Z" fill="#c6a25f"/>
<path d="M1219.5,368.6L1219.5,259.7L1382.8,259.7L1382.8,368.6Z" fill="#8b5e24"/>
<path d="M1074.4,423.1L1074.4,332.3L1219.5,332.3L1219.5,368.6L1201.4,368.6L1201.4,423.1Z" fill="#c6a25f"/>
<path d="M1201.4,477.5L1201.4,368.6L1419.1,368.6L1419.1,477.5Z" fill="#bee0d9"/>
<path d="M1255.8,550.1L1255.8,477.5L1419.1,477.5L1419.1,550.1Z" fill="#bee0d9"/>
<path d="M1255.8,622.7L1255.8,550.1L1509.8,550.1L1509.8,622.7Z" fill="#bee0d9"/>
<path d="M607.0,399.7L548.2,350.4L638.9,350.4L638.9,399.7Z" fill="#8b5e24"/>
<path d="M791.3,386.8L791.3,375.9L827.6,375.9L827.6,377.7L858.1,377.7L858.1,369.3L865.4,369.3L865.4,377.7L878.8,377.7L878.8,370.1L888.2,370.1L888.2,378.4L890.0,378.4L890.0,382.4L929.2,382.4L929.2,380.2L948.1,380.2L948.1,383.5L974.2,383.5L974.2,377.3L987.3,377.3L987.3,375.9L1001.8,375.9L1001.8,386.8Z" fill="#52330f"/>
<path d="M820.4,259.7L475.6,259.7L475.6,132.7L820.4,132.7Z" fill="url(#hatch)"/>
<path d="M475.6,337.5L384.9,337.5L384.9,223.4L475.6,223.4Z" fill="url(#hatch)"/>
<path d="M548.2,259.7L548.2,337.5L475.6,337.5L475.6,259.7Z" fill="url(#hatch)"/>
<path d="M638.9,350.4L548.2,350.4L548.2,259.7L638.9,259.7Z" fill="url(#hatch)"/>
<path d="M733.3,513.8L675.2,513.8L675.2,441.2L733.3,441.2Z" fill="url(#hatch)"/>
<path d="M713.8,513.8L713.8,647.0L612.3,647.0L594.9,622.7L615.8,513.8Z" fill="url(#hatch)"/>
<path d="M820.4,267.0L820.4,168.9L1001.8,168.9L1001.8,218.6Z" fill="url(#hatch)"/>
<path d="M784.1,482.5L784.1,386.8L947.4,386.8L947.4,482.5Z" fill="url(#hatch)"/>
<path d="M820.4,568.2L820.4,482.5L1045.3,482.5L1045.3,568.2Z" fill="url(#hatch)"/>
<path d="M1001.8,259.7L1001.8,187.1L1509.8,187.1L1509.8,259.7Z" fill="url(#hatch)"/>
<path d="M1001.8,386.8L1001.8,259.7L1074.4,259.7L1074.4,386.8Z" fill="url(#hatch)"/>
<path d="M1219.5,368.6L1219.5,259.7L1382.8,259.7L1382.8,368.6Z" fill="url(#hatch)"/>
<path d="M1074.4,423.1L1074.4,332.3L1219.5,332.3L1219.5,368.6L1201.4,368.6L1201.4,423.1Z" fill="url(#hatch)"/>
<path d="M791.3,386.8L791.3,375.9L827.6,375.9L827.6,377.7L858.1,377.7L858.1,369.3L865.4,369.3L865.4,377.7L878.8,377.7L878.8,370.1L888.2,370.1L888.2,378.4L890.0,378.4L890.0,382.4L929.2,382.4L929.2,380.2L948.1,380.2L948.1,383.5L974.2,383.5L974.2,377.3L987.3,377.3L987.3,375.9L1001.8,375.9L1001.8,386.8Z" fill="url(#hatch)"/>
<path d="M617.2,147.5L639.7,148.3L669.8,145.4L701.3,144.3L711.9,142.5L736.9,143.5L751.1,146.1L770.7,148.3L781.2,152.6L774.6,159.1L773.2,168.6L762.3,170.8L751.1,172.6L749.6,179.8L751.1,185.6L764.1,188.2L780.4,187.8L780.4,194.4L755.0,199.8L729.6,207.1L715.1,210.7L711.5,216.9L701.3,217.2L685.4,217.6L678.8,211.8L677.8,205.2L678.8,198.7L672.3,188.2L666.1,181.7L659.3,176.2L651.6,169.7L646.2,164.6L631.7,162.1L617.2,161.0L609.9,156.2Z" fill="#d2d2d4"/>
<path d="M845.8,332.3L849.4,326.9L854.8,322.9L863.9,320.0L874.8,317.8L883.9,318.1L889.3,320.7L892.9,317.1L898.4,317.8L900.2,319.6L911.1,321.4L927.4,321.4L931.0,325.0L940.1,325.0L943.7,321.4L965.5,325.0L981.8,326.9L981.8,332.3Z" fill="#d2d2d4"/>
<path d="M988.4,332.3L990.2,324.0L994.5,319.2L996.7,314.1L1001.8,312.0L1001.8,332.3Z" fill="#d2d2d4"/>
<path d="M1001.8,332.3L1001.8,372.2L1007.2,374.0L1012.7,379.5L1016.3,384.9L1023.6,386.8L1034.4,386.8L1045.3,381.3L1056.2,377.7L1063.5,372.2L1070.7,363.2L1072.5,357.7L1063.5,352.3L1059.8,345.0L1052.6,352.3L1041.7,352.3L1038.1,343.2L1032.6,335.9L1027.2,330.5L1019.9,325.0L1012.7,317.8L1001.8,314.1Z" fill="#d2d2d4"/>
<path d="M1041.7,312.3L1052.6,310.5L1063.5,312.3L1074.4,314.1L1074.4,328.7L1067.1,335.9L1056.2,335.9L1045.3,328.7L1039.9,321.4Z" fill="#d2d2d4"/>
<path d="M1058.4,276.8L1067.1,275.3L1074.4,279.7L1074.4,295.3L1065.3,296.0L1059.8,288.7Z" fill="#d2d2d4"/>
<path d="M1074.4,332.3L1099.8,332.3L1101.6,339.6L1096.1,346.8L1088.9,345.0L1081.6,345.0L1074.4,343.2Z" fill="#d2d2d4"/>
<path d="M1074.4,321.4L1085.2,321.4L1092.5,326.9L1096.1,332.3L1074.4,332.3Z" fill="#d2d2d4"/>
<path d="M1131.7,312.0L1139.3,298.2L1152.4,294.2L1171.2,290.6L1186.9,285.8L1194.1,280.8L1176.0,279.7L1167.3,274.6L1178.5,273.5L1201.4,274.6L1218.1,278.4L1222.8,279.3L1246.0,280.4L1251.8,281.5L1251.8,294.2L1236.6,296.0L1227.5,300.0L1218.1,301.8L1201.4,307.6L1183.2,311.2L1171.2,314.9L1156.0,318.7L1139.7,316.0Z" fill="#d2d2d4"/>
<path d="M600.5,508.4L606.3,508.4L609.9,521.1L608.8,532.0L604.5,541.0L597.2,541.0Z" fill="#d2d2d4"/>
<path d="M902.0,512.0L907.4,512.0L912.2,528.3L915.4,542.1L910.4,542.1L907.4,528.3Z" fill="#d2d2d4"/>
<path d="M996.3,349.7L1001.8,349.7L1001.8,346.1L996.3,346.1Z" fill="#52330f"/>
<path d="M998.2,361.3L1001.8,361.3L1001.8,354.8L998.2,354.8Z" fill="#52330f"/>
</g>
<path d="M961.9,291.6L958.2,288.7L957.5,285.1L960.8,281.5L964.4,277.1L968.0,272.8L972.8,272.4L978.2,274.2L974.6,276.4L978.2,279.7L983.6,277.9L989.1,276.8L983.6,273.5L992.7,270.6L998.2,269.9L994.5,274.2L990.9,276.8L994.5,279.7L1000.0,283.3L1007.2,286.9L1007.2,290.6L1001.8,292.4L994.5,292.4L987.3,290.6L983.6,288.7L976.4,288.7L970.9,291.6ZM1036.3,305.1L1041.7,307.6L1050.8,306.9L1052.6,301.4L1049.0,296.0L1049.0,292.4L1052.6,290.6L1047.1,288.7L1043.5,283.3L1041.7,279.7L1049.0,276.8L1049.0,272.4L1041.7,270.6L1034.4,272.4L1029.0,276.0L1027.2,279.7L1029.0,285.1L1032.6,288.7L1036.3,294.2L1034.4,299.6ZM1068.9,281.5L1074.4,282.6L1079.8,279.7L1079.8,274.2L1074.4,271.7L1068.9,276.0ZM1123.4,276.0L1128.8,272.4L1136.1,272.4L1143.3,271.7L1143.3,273.1L1136.1,273.5L1130.6,274.6L1125.2,277.9ZM1233.3,253.9L1239.5,250.6L1248.5,245.2L1254.7,239.0L1255.8,240.5L1252.2,246.3L1244.9,251.4L1237.7,254.3ZM965.5,223.4L970.9,223.4L976.4,220.9L972.8,218.0L967.3,218.7ZM981.8,219.8L987.3,219.0L987.3,215.1L983.6,213.6L982.6,216.9ZM972.0,442.3L976.4,439.7L980.7,441.2L980.0,446.6L976.4,451.0L972.8,450.3L971.7,445.9ZM963.0,453.5L964.8,457.5L967.3,464.8L969.1,472.1L967.3,472.4L963.7,464.8L962.2,457.5ZM980.0,476.0L982.2,479.3L983.3,486.6L984.4,493.1L982.2,493.1L981.1,486.6L980.0,481.1ZM905.6,392.2L909.3,392.2L909.3,394.7L906.4,394.7ZM522.8,271.7L530.1,269.5L535.5,265.9L542.8,264.4L548.2,267.7L550.0,272.4L542.8,272.4L537.3,271.0L530.1,272.0ZM538.1,288.7L542.8,289.5L543.9,283.3L548.2,276.0L544.6,274.9L541.0,276.0L539.1,281.5ZM550.0,274.2L553.7,274.9L560.9,274.2L566.4,276.0L565.3,279.3L560.9,279.7L559.1,284.4L556.6,283.3L553.7,281.5L553.7,277.9ZM554.4,289.5L560.9,290.2L570.0,286.2L566.4,285.8L559.1,287.3ZM567.4,284.0L575.4,284.0L579.8,281.8L575.4,281.1L568.9,282.2ZM499.2,246.3L502.9,245.9L506.5,254.3L506.5,257.9L503.9,257.9L501.0,252.4L497.4,248.8ZM404.9,202.3L414.0,198.4L423.0,198.0L428.5,200.5L421.2,205.2L412.1,204.5ZM432.1,219.8L439.4,216.9L448.4,216.1L459.3,212.9L453.9,215.1L450.2,218.0L443.0,219.8L437.5,220.5ZM453.1,228.1L459.3,226.3L470.2,225.6L464.8,227.0L457.5,227.8ZM483.6,234.3L487.3,231.0L487.3,235.0ZM602.6,497.1L605.5,498.6L607.0,500.7L604.1,500.0ZM544.6,397.6L548.2,400.2L546.4,400.9L545.0,399.1Z" fill="#fff" stroke="#000" stroke-width="1.1" stroke-linejoin="round"/>
<path d="M246.7,203.1L252.5,200.9L259.7,199.8L262.6,201.3L269.5,200.9L270.6,199.4L267.0,198.0L261.6,195.4L252.5,192.9L256.1,191.1L265.2,188.9L268.8,186.4L277.9,184.2L288.4,182.4L296.0,183.8L305.1,184.2L312.4,185.5L321.4,186.4L330.5,187.1L337.8,186.7L345.0,188.4L352.3,188.9L359.5,190.9L365.0,190.7L370.4,188.9L377.7,187.8L384.9,186.7L390.4,185.3L394.0,186.4L399.4,188.9L404.9,189.3L406.7,187.1L414.0,187.8L421.2,189.3L432.1,190.7L439.4,191.1L443.0,193.3L439.4,195.1L450.2,195.4L457.5,194.7L462.9,196.2L464.8,193.6L472.0,191.8L479.3,194.4L486.5,195.1L493.8,195.1L499.2,192.9L502.9,192.5L508.3,193.6L510.1,196.9L513.7,194.4L515.6,190.7L508.3,188.9L507.2,186.0L506.5,182.7L511.9,179.8L517.4,180.9L521.0,185.3L524.6,188.6L528.3,192.5L533.7,190.7L537.3,195.1L542.8,196.2L546.4,191.5L546.4,187.8L557.3,188.2L560.9,192.5L559.1,198.0L551.8,200.5L544.6,200.9L544.6,203.1L541.0,204.2L537.3,208.2L528.3,210.7L522.8,213.2L519.2,216.5L514.8,220.1L513.0,223.4L512.7,227.0L519.2,228.1L521.0,233.6L530.1,234.3L537.3,236.1L548.2,240.5L558.0,241.2L558.4,248.8L562.7,252.4L564.5,255.0L568.2,255.3L570.7,252.4L571.4,247.0L568.2,242.6L575.4,239.7L578.3,235.0L578.7,232.5L573.6,228.1L575.4,223.4L573.6,219.8L573.6,215.1L582.7,215.1L589.9,216.1L595.4,218.0L602.6,219.8L602.6,223.4L604.5,227.0L609.9,229.6L615.3,227.8L619.0,225.2L622.2,222.3L626.2,227.0L631.7,232.5L633.5,236.1L638.9,240.8L644.4,243.4L648.7,245.2L653.4,248.8L654.5,252.4L649.8,254.6L643.3,256.1L638.9,258.6L631.7,259.0L624.4,258.6L615.3,259.0L611.7,262.2L606.3,265.1L600.8,269.5L598.3,271.3L602.6,270.6L608.1,265.9L615.3,263.0L622.6,263.3L622.6,265.9L617.2,267.0L620.8,269.5L621.5,273.1L626.2,274.6L631.7,274.9L635.3,276.0L637.5,270.6L639.7,274.2L635.3,276.8L628.0,278.9L622.6,281.5L618.2,283.3L616.4,280.8L620.8,277.9L622.6,276.0L617.2,277.1L613.5,278.6L608.1,280.4L602.6,282.6L600.1,286.2L602.6,289.5L599.0,290.6L593.6,291.6L588.1,293.8L588.1,297.8L584.5,300.0L582.7,298.2L583.8,303.3L580.9,306.9L581.6,310.5L579.1,314.9L574.3,317.8L570.0,320.3L564.5,324.3L561.6,328.7L561.6,332.3L564.5,338.5L566.0,343.9L565.3,349.4L562.7,350.1L559.8,346.1L556.6,340.6L556.6,335.9L552.6,332.3L548.2,333.4L542.8,330.8L537.3,331.2L531.9,331.6L532.6,335.2L528.3,335.2L522.8,333.8L516.3,333.4L511.9,335.2L506.5,338.5L503.6,342.1L503.9,346.8L502.1,352.3L501.8,359.5L503.6,365.0L506.5,369.3L508.3,372.2L511.9,373.7L515.6,375.1L521.0,373.7L524.6,374.0L527.5,371.1L528.6,365.7L530.1,364.2L535.5,363.2L541.0,363.2L541.7,365.7L539.1,370.4L538.4,374.8L536.6,377.7L534.8,383.1L537.3,383.8L542.8,383.8L548.2,383.5L551.8,384.6L554.7,386.8L553.7,392.2L552.9,397.6L552.9,401.3L555.5,404.9L558.4,407.8L562.7,409.3L566.4,407.4L570.0,406.7L573.6,407.4L576.2,410.0L578.0,412.2L580.9,407.4L582.7,403.1L585.2,401.3L589.9,400.2L593.6,398.4L597.2,396.2L597.9,398.7L595.8,401.3L599.0,401.3L600.8,400.2L602.6,397.3L604.5,399.5L608.8,402.0L613.5,403.1L619.0,404.2L624.4,403.1L629.9,402.4L631.7,404.9L635.3,407.4L636.0,410.3L640.7,412.2L644.4,415.8L649.8,419.4L657.1,419.8L662.5,421.2L668.0,424.5L670.5,426.7L673.4,433.9L675.2,438.3L673.4,441.2L680.7,443.0L684.3,443.7L691.5,445.9L695.2,450.3L700.6,449.9L706.1,451.7L711.5,451.4L716.9,454.6L721.3,458.3L726.0,459.7L728.9,461.2L730.4,467.0L729.6,472.1L727.1,476.4L722.4,481.1L718.8,487.7L715.1,493.8L715.1,501.1L713.3,506.5L712.2,512.7L708.6,519.2L705.0,524.0L698.8,524.7L693.4,526.5L687.9,528.7L682.5,533.0L680.3,537.4L680.3,542.8L677.0,546.5L674.1,551.2L669.8,556.6L666.1,561.0L662.5,564.6L657.4,567.9L652.7,567.9L646.9,566.1L644.7,564.6L644.7,566.8L649.1,570.1L649.1,573.3L648.0,579.1L642.6,581.7L635.3,582.8L630.6,582.0L630.6,586.4L629.9,590.0L624.4,590.0L620.8,589.3L620.8,593.7L625.5,595.5L622.6,597.3L619.7,599.1L619.0,604.5L613.5,606.4L611.7,610.0L617.2,612.5L617.9,615.4L611.7,620.9L608.1,623.8L606.3,626.3L608.5,631.0L604.5,631.8L599.7,632.9L599.0,636.5L593.6,635.4L589.9,632.9L586.3,630.0L584.5,624.5L582.7,619.1L582.7,613.6L582.7,610.7L588.1,608.2L589.9,604.5L591.8,600.9L591.8,595.5L589.2,592.9L588.9,588.2L590.7,584.6L589.9,579.1L591.0,575.5L592.8,570.1L595.4,566.4L596.8,561.0L597.2,553.7L597.6,548.3L599.0,542.8L600.5,535.6L601.2,528.3L601.9,521.1L601.9,513.8L601.6,508.0L597.2,504.0L591.8,501.1L584.5,497.5L579.8,492.0L579.8,489.5L576.5,484.8L573.6,478.6L570.7,472.1L567.1,466.6L562.7,463.0L561.6,458.3L564.5,454.3L566.4,452.1L564.5,450.3L563.1,449.2L563.8,444.8L566.0,441.2L566.4,438.3L570.0,436.8L571.1,433.9L574.7,431.8L576.2,426.7L575.4,421.2L575.8,416.9L574.0,415.1L572.5,412.2L571.8,410.7L570.0,408.9L568.2,408.9L566.4,411.1L565.3,414.3L562.7,414.7L561.6,412.9L557.3,411.4L555.5,411.1L552.9,410.0L552.9,408.5L549.3,406.4L547.5,405.6L545.3,403.4L545.7,400.9L542.8,397.6L539.1,394.4L538.4,392.9L533.7,392.6L528.3,390.7L522.8,388.6L517.4,384.2L513.7,382.4L508.3,384.2L502.9,383.5L497.4,380.9L492.0,379.1L486.5,376.2L481.1,374.8L475.6,370.4L473.8,366.8L474.6,363.2L472.0,358.4L468.4,354.1L462.9,349.4L459.7,346.8L458.2,343.2L453.9,339.6L449.5,335.9L446.6,330.5L444.8,327.6L440.1,325.8L440.4,330.5L443.0,334.1L446.6,338.5L449.2,343.2L452.8,347.5L455.0,352.3L458.2,355.9L459.3,357.7L457.5,358.1L454.6,355.5L450.2,351.9L449.2,346.8L444.8,343.9L441.2,340.6L442.3,337.7L437.5,333.4L435.7,329.4L432.8,325.8L431.4,322.5L427.4,318.5L423.0,316.7L419.0,315.6L417.6,312.3L414.0,308.3L412.1,304.3L410.3,302.5L407.4,297.8L405.6,294.5L406.3,288.7L404.9,285.8L406.3,279.7L406.7,273.5L404.2,265.9L410.3,266.2L412.1,268.8L411.1,263.3L408.5,261.5L404.9,259.7L399.4,257.2L394.0,256.1L392.9,251.7L388.6,247.7L383.8,244.1L384.9,240.5L379.5,238.6L376.6,235.0L372.2,231.4L366.8,228.8L361.3,229.6L355.9,226.3L348.6,224.1L341.4,223.4L334.1,223.0L326.9,220.5L319.6,221.6L317.8,223.8L312.4,225.6L305.8,226.3L306.9,223.4L312.4,219.0L306.9,220.5L303.3,223.4L299.7,225.9L297.8,228.8L292.4,232.1L287.0,235.4L281.5,237.9L274.3,239.7L268.8,241.2L263.4,242.3L258.7,243.0L265.2,240.5L270.6,238.3L276.1,236.1L281.5,233.2L285.1,230.7L285.9,227.8L281.5,227.8L276.1,228.1L268.8,228.1L268.8,225.2L267.0,223.4L261.6,223.8L256.8,221.6L256.1,218.0L254.3,216.1L257.9,213.6L259.0,212.1L265.2,212.1L270.6,210.7L273.2,207.1L268.8,207.1L263.4,207.1L256.1,207.1L252.5,206.0ZM591.8,157.3L609.9,150.8L620.8,147.2L638.9,143.5L675.2,141.7L711.5,138.5L747.8,137.7L765.9,139.9L784.1,143.5L791.3,147.2L813.1,145.4L795.0,150.8L787.7,154.4L787.7,159.9L789.5,165.3L784.1,168.9L785.9,172.6L776.8,176.2L776.8,179.8L776.8,185.3L769.6,188.9L760.5,191.8L747.8,194.0L738.7,196.2L733.3,199.8L724.2,202.3L713.3,203.4L709.7,207.1L707.9,212.5L702.4,218.0L698.8,223.4L691.5,222.3L682.5,219.8L677.0,216.1L673.4,212.5L669.8,208.9L666.1,203.4L662.5,198.7L661.4,194.4L671.6,190.7L662.5,188.9L658.9,185.3L660.7,181.7L655.3,178.0L651.6,172.6L644.4,167.1L631.7,164.6L617.2,165.3L606.3,163.5L599.0,160.6ZM620.8,216.5L615.3,216.1L608.1,213.6L599.0,211.4L591.8,207.8L584.5,207.1L575.4,207.8L573.6,205.2L588.1,203.4L589.9,199.8L593.6,196.9L586.3,193.6L575.4,188.9L566.4,187.1L550.0,187.1L537.3,183.5L531.9,178.0L533.7,173.7L548.2,173.3L550.0,178.0L559.1,173.7L566.4,173.7L577.2,176.9L588.1,180.9L599.0,183.5L608.1,186.4L613.5,190.0L615.3,194.4L626.2,196.9L633.5,199.1L629.9,203.4L626.2,206.3L620.8,210.7L609.9,210.0L619.0,214.3ZM439.4,189.6L430.3,185.3L426.7,182.4L432.1,178.0L441.2,175.5L457.5,176.9L468.4,175.5L475.6,176.9L475.6,183.5L486.5,187.1L488.3,190.7L475.6,191.5L464.8,191.8L450.2,192.2ZM401.3,179.1L408.5,183.1L417.6,182.0L424.8,178.0L433.9,174.4L430.3,171.5L417.6,170.8L404.9,171.9L406.7,175.1ZM432.1,168.9L446.6,170.8L464.8,170.4L473.8,167.1L464.8,164.2L450.2,164.6L433.9,164.6ZM410.3,165.3L423.0,166.4L435.7,161.7L424.8,159.9L412.1,162.4ZM479.3,167.9L493.8,168.9L502.9,167.1L501.0,163.5L488.3,162.4L479.3,164.6ZM510.1,179.8L519.2,179.8L528.3,176.2L524.6,172.6L511.9,172.6L508.3,176.2ZM486.5,179.8L497.4,182.4L506.5,178.0L502.9,173.3L492.0,172.6L484.7,176.2ZM495.6,190.7L504.7,192.2L510.1,190.0L506.5,187.5L497.4,187.8ZM508.3,167.1L522.8,170.4L544.6,171.1L564.5,170.4L568.2,167.1L559.1,164.2L533.7,163.5L519.2,162.8L506.5,162.8ZM533.7,163.5L548.2,164.2L566.4,164.6L575.4,161.7L584.5,156.2L591.8,153.7L609.9,149.0L622.6,145.4L631.7,142.5L609.9,139.9L584.5,139.2L559.1,140.6L541.0,143.5L526.4,145.0L537.3,149.0L544.6,152.6L548.2,156.2L539.1,158.8L531.9,161.0ZM510.1,152.6L522.8,157.0L537.3,156.2L541.0,152.6L530.1,149.0L519.2,146.1L506.5,149.0ZM479.3,156.2L497.4,158.8L508.3,156.2L493.8,153.3L475.6,153.3ZM541.0,204.5L548.2,202.0L553.7,202.7L560.9,207.8L564.5,210.0L557.3,211.1L550.0,211.8L541.0,210.0L544.6,207.1ZM555.5,213.2L560.9,212.9L566.4,215.1L557.3,215.8ZM641.5,267.7L645.5,263.3L648.7,257.9L653.8,253.9L655.3,257.9L651.6,259.7L655.3,261.5L662.5,262.2L664.3,265.1L665.4,268.8L663.6,272.0L658.9,271.0L654.2,271.0L653.4,268.4L648.0,268.4ZM622.6,260.1L629.9,261.2L632.8,263.0L626.2,262.2ZM623.3,271.3L628.0,272.8L631.7,272.8L628.8,274.2L624.4,273.1ZM391.1,256.8L399.4,258.2L404.9,261.5L408.9,265.5L404.9,265.1L399.4,262.2L392.9,259.3ZM374.0,244.5L378.4,245.2L379.5,248.8L381.3,252.4L376.6,249.5ZM296.0,232.5L301.5,230.7L305.1,232.1L302.2,234.3L297.8,235.0ZM249.6,222.7L255.0,222.3L255.4,224.1L251.4,224.1ZM233.6,211.1L239.8,210.3L244.1,211.8L238.7,212.5ZM258.7,241.9L264.1,241.6L263.4,243.4L259.0,243.7ZM247.8,247.0L253.2,245.2L253.2,246.6L248.9,248.1ZM243.4,248.8L247.0,247.0L247.4,248.1L244.1,249.5ZM221.6,252.1L225.3,251.4L225.3,252.4L221.6,252.8ZM214.4,252.8L216.9,252.4L216.9,253.9L214.4,253.9ZM371.1,236.8L375.9,237.9L377.7,241.6L374.0,242.3L371.9,239.7ZM362.1,229.9L366.8,230.7L368.6,234.3L367.9,237.2L364.6,234.3ZM601.6,632.5L607.7,632.5L609.2,634.7L613.5,637.9L620.1,639.8L615.3,641.2L608.1,641.9L602.6,642.3L597.2,640.1L595.4,637.9L600.8,637.2L602.6,635.0ZM587.4,593.3L589.9,593.3L589.9,598.4L587.0,598.4ZM634.2,628.1L638.9,627.4L640.0,630.0L636.0,630.7ZM640.7,627.8L646.9,628.1L645.1,630.0L641.5,631.0ZM718.0,637.2L723.1,637.9L726.7,640.1L723.1,639.8ZM548.6,361.7L555.5,358.1L559.1,357.0L564.5,357.3L570.0,359.9L575.4,362.1L580.9,364.6L587.4,367.9L582.7,369.0L574.7,369.3L576.5,366.4L571.8,365.0L568.2,362.4L562.7,361.0L559.1,359.9L553.7,360.6ZM586.7,374.4L591.8,374.0L593.6,373.7L590.7,369.7L595.4,369.0L602.6,369.3L608.5,373.7L604.5,374.4L599.0,376.9L595.4,375.5ZM572.5,374.4L579.8,375.5L575.4,376.6ZM612.8,374.0L618.6,374.8L617.2,376.0L612.8,375.9ZM632.0,402.4L635.3,402.0L635.3,404.5L632.0,404.5ZM572.5,350.1L574.3,350.1L575.1,353.4L572.9,353.0ZM290.6,367.9L294.2,369.7L292.0,372.6L290.6,370.4ZM288.0,365.0L290.6,365.7L289.1,366.4ZM282.2,362.8L284.4,363.5L283.0,363.9ZM276.8,360.6L278.6,361.0L277.9,361.7ZM524.6,442.3L526.8,443.4L525.7,444.8ZM824.0,306.9L824.7,301.4L822.2,300.4L824.7,294.2L824.7,288.7L822.9,285.1L827.6,282.6L834.9,282.9L842.1,283.7L850.1,283.7L851.9,279.7L852.3,274.2L848.7,269.9L840.3,267.3L839.6,265.1L845.8,264.1L850.8,264.8L850.5,260.8L855.9,262.2L857.4,260.8L862.1,259.3L862.5,256.4L867.5,255.0L871.2,252.4L873.7,248.8L878.4,247.4L882.0,246.6L887.5,245.9L888.2,242.3L886.4,239.7L886.0,234.3L891.1,233.6L894.7,231.7L894.0,236.1L895.8,237.2L892.2,240.5L892.9,243.4L896.6,245.2L902.0,243.7L907.4,245.2L916.5,243.4L923.8,242.6L927.4,243.7L929.2,241.9L932.8,239.7L932.8,235.0L935.4,232.1L940.1,234.3L944.8,232.5L944.8,229.6L941.9,226.3L949.2,224.9L958.2,225.2L966.2,223.8L960.1,221.2L951.0,221.9L940.1,223.8L934.7,221.2L933.9,216.9L933.9,212.5L940.1,208.9L947.4,205.2L948.5,203.1L943.7,202.3L936.5,203.8L933.9,207.1L931.0,210.0L923.8,212.5L920.1,216.1L919.1,220.5L923.8,222.7L924.9,225.2L920.1,227.8L917.2,232.5L914.7,236.8L909.3,237.9L908.2,240.1L903.8,240.1L902.7,237.2L899.5,232.5L897.3,227.0L895.1,224.5L891.1,227.8L885.7,230.3L882.0,230.7L877.0,227.8L874.8,223.4L874.8,218.0L875.9,215.4L882.0,212.5L889.3,210.0L894.7,207.1L900.2,203.4L903.8,199.8L909.3,196.2L912.9,193.3L918.3,190.7L925.6,187.8L934.7,186.4L941.9,184.6L950.3,183.1L958.2,183.5L965.5,185.3L969.1,186.0L965.5,188.2L976.4,189.3L987.3,190.4L994.5,192.5L1003.6,195.1L1006.1,198.7L1001.8,200.9L994.5,201.3L983.6,199.8L976.4,198.7L980.0,200.9L983.6,207.4L990.9,209.2L994.5,207.1L1001.8,206.7L1001.8,203.4L1009.0,200.2L1016.3,200.5L1017.0,196.2L1016.3,192.5L1023.6,193.3L1023.6,198.0L1030.8,195.8L1041.7,192.9L1052.6,193.3L1056.2,192.5L1067.1,191.5L1076.2,190.7L1076.2,187.8L1088.9,189.6L1097.9,190.7L1099.8,192.5L1105.2,193.3L1099.8,188.9L1099.8,183.5L1105.2,178.0L1110.7,176.2L1119.7,176.9L1120.8,181.7L1119.7,187.1L1123.4,192.5L1117.9,198.0L1123.4,196.2L1127.0,190.7L1125.2,183.5L1128.8,178.0L1137.9,179.8L1146.9,179.8L1154.2,180.6L1157.8,185.3L1157.8,181.7L1148.8,174.4L1168.7,172.6L1172.3,168.9L1183.2,166.8L1201.4,165.0L1219.5,163.5L1234.0,159.1L1244.9,161.7L1263.1,163.5L1268.5,167.1L1255.8,172.6L1263.1,173.7L1270.3,174.0L1288.5,176.2L1304.8,174.4L1317.5,174.4L1326.6,178.0L1324.7,183.5L1332.0,184.2L1339.3,181.7L1353.8,182.0L1364.7,178.0L1368.3,176.9L1386.4,178.8L1400.9,181.7L1408.2,183.8L1422.7,183.5L1437.2,187.1L1440.9,188.9L1451.7,188.2L1466.3,187.1L1475.3,190.7L1477.1,187.5L1495.3,187.8L1509.8,191.1L1509.8,205.2L1506.2,206.3L1500.7,206.3L1504.4,210.7L1508.0,214.3L1498.9,214.3L1489.8,216.9L1480.8,219.8L1475.3,223.4L1466.3,221.6L1459.0,222.3L1453.6,223.8L1449.9,227.0L1448.1,230.7L1444.5,232.5L1448.8,237.2L1444.5,241.6L1440.9,243.4L1437.2,248.1L1431.8,249.5L1428.2,254.3L1425.2,256.1L1422.7,250.6L1421.6,245.2L1421.3,237.9L1424.5,233.2L1430.0,229.9L1437.2,225.2L1444.5,221.6L1449.9,218.0L1451.7,214.3L1444.5,216.1L1437.2,219.8L1426.3,217.2L1419.1,225.2L1411.8,226.7L1404.6,225.2L1397.3,225.2L1386.4,225.9L1375.5,225.9L1366.5,230.7L1357.4,236.1L1350.1,241.6L1355.6,245.2L1362.8,244.5L1368.3,247.7L1369.4,251.7L1366.5,256.1L1366.5,261.5L1364.7,267.0L1359.2,272.4L1353.8,277.9L1348.3,281.5L1341.1,285.8L1335.6,284.4L1331.3,286.9L1327.6,290.6L1326.6,293.1L1321.1,296.0L1319.3,298.5L1322.9,301.4L1326.2,306.9L1326.6,311.2L1324.7,313.8L1319.3,315.2L1314.9,316.0L1315.7,312.3L1315.7,306.9L1310.2,303.3L1311.3,297.8L1307.7,296.0L1301.2,297.8L1297.5,300.0L1299.3,294.2L1295.7,292.7L1290.3,296.7L1284.8,298.9L1283.7,301.4L1288.5,305.1L1293.9,304.3L1301.2,305.4L1295.7,308.7L1292.8,310.5L1289.5,314.1L1293.2,317.8L1295.7,323.2L1298.6,326.9L1298.6,329.4L1293.9,331.2L1299.3,333.0L1297.5,337.7L1293.9,342.5L1291.0,346.8L1287.4,351.2L1283.0,354.8L1279.4,357.7L1272.1,359.5L1268.5,360.6L1263.1,362.4L1257.6,364.2L1256.9,367.5L1254.7,363.9L1250.4,362.4L1244.9,365.0L1241.3,370.4L1241.3,374.0L1244.9,379.5L1250.4,383.8L1252.9,390.4L1253.3,395.8L1252.2,399.5L1246.7,403.1L1243.8,404.9L1243.1,406.7L1237.7,409.6L1236.9,404.9L1232.2,402.7L1228.6,397.6L1223.1,395.1L1221.3,392.2L1219.5,395.8L1217.7,401.3L1216.6,406.7L1219.5,410.3L1221.3,415.1L1225.0,416.5L1228.6,419.4L1231.8,423.8L1232.2,430.3L1234.7,436.1L1232.2,436.5L1226.8,432.9L1224.2,430.3L1221.3,424.9L1220.6,419.4L1217.7,415.1L1214.1,411.4L1213.3,406.7L1214.8,401.3L1214.1,395.8L1213.0,390.4L1211.2,384.9L1210.8,381.3L1205.0,381.3L1201.4,383.8L1198.8,383.1L1199.6,377.7L1197.7,372.2L1194.1,368.6L1190.5,363.2L1188.7,359.5L1185.0,359.5L1181.4,362.1L1176.0,362.4L1172.3,365.0L1170.5,368.6L1165.1,370.4L1159.6,375.9L1156.0,379.5L1150.6,383.1L1147.7,386.8L1147.7,392.2L1146.9,397.6L1146.2,403.8L1143.3,406.7L1140.4,409.3L1137.9,411.8L1134.2,408.5L1132.4,403.1L1128.8,395.8L1127.0,390.4L1123.4,383.1L1121.5,375.9L1120.8,370.4L1120.4,365.0L1119.7,361.3L1117.9,365.0L1112.5,365.7L1107.0,361.3L1108.8,358.4L1105.2,355.9L1101.6,354.1L1099.8,351.2L1097.9,349.0L1090.7,349.7L1081.6,350.1L1076.2,349.4L1068.9,348.6L1063.5,345.0L1061.7,343.2L1054.4,344.6L1049.0,343.2L1043.5,339.9L1039.9,335.9L1038.1,332.3L1034.4,330.8L1030.8,333.0L1032.6,337.7L1036.3,341.4L1038.8,345.0L1041.0,348.6L1043.5,346.8L1043.9,350.4L1043.5,353.0L1049.0,353.7L1054.4,353.0L1058.0,348.6L1060.9,346.1L1061.7,350.4L1063.5,354.1L1069.6,355.9L1073.6,359.5L1069.6,366.8L1066.4,372.2L1061.7,375.9L1056.2,379.5L1049.0,381.3L1046.1,384.6L1038.1,387.5L1032.6,390.4L1025.4,392.6L1019.9,394.7L1014.5,395.1L1012.7,390.4L1012.0,384.9L1010.9,380.2L1007.2,375.9L1003.6,370.4L998.9,365.0L996.3,357.7L992.0,352.3L989.1,346.8L985.5,341.4L982.9,337.7L983.6,334.1L981.1,339.6L978.2,337.7L974.9,332.7L973.9,327.9L980.0,327.6L981.8,326.5L983.6,322.1L985.5,318.1L986.6,312.3L987.3,308.7L983.6,308.0L980.0,309.4L974.6,310.2L968.0,307.6L963.7,309.8L958.2,308.0L955.7,306.9L954.6,302.2L952.8,298.5L951.7,296.0L956.4,294.5L961.9,293.8L961.9,291.6L958.2,292.4L952.8,293.8L951.0,293.1L945.5,293.1L941.9,294.9L939.4,294.5L939.4,297.8L941.2,301.4L943.7,303.3L940.1,305.1L940.1,308.7L936.5,308.0L934.7,305.1L933.6,302.2L931.0,297.8L927.4,294.2L927.4,289.8L923.8,286.9L918.3,284.4L912.9,281.5L909.3,277.1L906.4,275.7L901.3,276.8L902.0,280.4L906.0,283.3L909.3,287.7L914.7,289.5L920.1,293.1L923.8,295.3L918.3,294.5L916.9,297.8L918.7,299.6L915.1,303.3L913.6,303.3L914.7,299.6L912.9,296.0L909.3,293.5L903.8,291.3L900.9,289.5L896.6,286.9L894.0,283.3L892.2,281.1L888.6,280.0L883.9,282.2L878.4,284.7L873.0,283.7L868.3,285.1L868.3,288.7L864.6,291.3L859.6,293.5L855.6,297.8L857.4,300.7L854.1,304.0L849.4,307.6L840.7,308.0L837.1,310.2L833.8,308.3L831.2,306.2ZM203.5,191.1L214.4,193.3L228.9,198.0L239.8,200.9L236.2,203.4L228.9,207.8L219.8,206.0L210.8,203.4L207.1,200.9L203.5,205.2ZM835.2,311.2L837.4,310.9L845.8,313.1L853.0,311.2L860.3,308.7L867.5,307.3L874.8,307.6L883.9,306.9L892.2,305.8L896.6,306.9L894.7,310.5L896.6,314.1L892.9,317.8L896.6,320.7L903.8,321.8L911.8,323.6L913.6,327.6L920.1,329.4L925.6,331.2L929.2,328.7L929.2,324.0L934.7,321.8L940.1,322.9L947.4,326.1L954.6,327.6L961.9,329.0L965.5,327.6L969.1,326.5L973.9,327.9L974.9,332.7L975.7,337.7L979.3,343.2L981.8,348.6L985.5,354.1L986.2,357.7L990.9,363.2L992.0,368.6L992.7,374.0L996.3,375.9L999.3,383.8L1005.4,388.6L1010.9,394.0L1013.8,397.6L1012.7,399.5L1016.3,403.1L1021.7,402.4L1027.2,400.9L1034.4,400.2L1042.4,398.4L1041.7,403.1L1039.9,408.5L1036.3,415.8L1032.6,423.1L1027.2,428.5L1021.7,433.6L1016.3,437.6L1010.9,443.0L1007.2,447.7L1003.6,450.3L1000.7,455.7L998.2,461.2L998.2,464.8L1000.0,470.2L1000.0,475.7L1003.2,479.3L1004.0,486.6L1004.3,493.8L1001.8,499.3L996.3,503.6L990.9,506.5L987.3,510.2L983.6,513.8L984.7,519.2L985.5,524.7L984.7,528.3L978.2,532.7L975.3,535.6L975.7,541.0L973.9,545.7L969.1,550.1L965.5,555.5L960.1,559.9L954.6,562.8L949.9,564.6L941.9,565.0L936.5,565.3L929.2,567.5L923.8,565.7L923.1,561.0L922.7,557.4L920.1,551.9L917.6,546.5L913.6,541.0L911.1,535.6L909.3,528.3L909.3,522.9L905.6,517.4L902.0,510.2L899.5,504.7L899.5,499.3L901.3,493.8L905.6,486.6L906.7,481.1L904.5,473.9L902.0,466.6L901.3,463.0L900.2,459.3L896.6,455.0L892.9,451.0L890.0,446.6L888.6,443.7L891.1,440.1L891.5,435.8L892.2,432.1L891.8,428.5L889.3,425.6L887.5,424.5L882.0,425.2L878.4,425.6L874.8,421.2L873.0,418.3L869.0,418.0L862.1,418.7L856.6,420.5L853.0,422.3L849.4,423.8L843.9,422.7L838.5,422.3L833.1,424.1L829.4,425.2L824.0,423.1L818.5,418.7L814.9,416.2L811.3,414.0L808.8,410.3L808.4,406.7L804.0,403.1L802.2,401.3L798.6,397.6L795.7,395.8L795.7,392.2L793.1,387.8L796.8,383.1L797.5,375.9L797.9,370.4L795.0,365.0L798.6,355.9L804.0,346.8L809.5,340.6L814.9,337.7L820.4,334.1L821.5,330.5L821.1,326.9L824.0,322.1L829.1,319.2L833.1,316.7ZM1035.5,484.8L1039.2,495.6L1038.1,499.3L1036.3,504.7L1032.6,513.8L1030.1,522.9L1027.2,532.0L1021.7,533.8L1016.3,532.0L1014.5,526.5L1014.5,521.1L1017.4,515.6L1016.3,510.2L1017.0,504.7L1019.9,499.3L1025.4,497.5L1030.1,493.8L1032.6,489.1ZM1268.5,521.1L1272.1,520.3L1277.6,516.7L1284.8,514.9L1290.3,513.8L1295.7,512.0L1300.4,506.5L1301.2,502.9L1304.8,504.0L1306.6,500.4L1310.2,495.6L1315.7,492.0L1321.1,494.9L1326.6,494.9L1327.3,490.2L1331.3,486.2L1335.6,484.8L1337.4,482.2L1342.9,484.8L1348.3,484.8L1353.0,485.5L1350.1,490.2L1348.3,495.6L1353.8,498.9L1361.0,502.9L1366.5,504.7L1370.1,497.5L1370.8,490.2L1371.2,484.8L1373.7,480.0L1377.4,486.6L1378.4,492.7L1383.9,495.6L1384.6,501.1L1387.1,508.4L1391.9,512.0L1395.5,514.5L1399.1,519.2L1403.5,523.6L1404.6,527.6L1410.0,532.0L1412.5,535.6L1412.9,541.0L1414.0,545.4L1411.8,551.9L1410.7,557.4L1406.4,562.1L1403.8,568.2L1400.9,573.7L1400.6,577.3L1393.7,578.8L1388.2,582.0L1382.8,580.2L1377.4,582.0L1370.1,580.2L1364.7,577.3L1362.8,571.9L1359.2,570.4L1359.2,566.4L1356.7,569.0L1356.7,561.0L1352.0,564.6L1348.7,567.9L1344.7,561.7L1341.1,557.7L1333.8,555.5L1324.7,555.9L1315.7,558.4L1308.4,561.0L1304.8,564.3L1297.5,564.3L1290.3,566.1L1284.8,568.2L1277.6,567.5L1274.3,565.7L1273.9,562.8L1276.5,557.4L1274.7,551.9L1272.5,545.7L1270.3,540.3L1268.5,535.6L1269.6,530.1L1268.1,528.3ZM1381.7,588.9L1388.2,590.4L1394.8,589.7L1394.8,593.7L1393.0,598.0L1388.2,599.5L1384.6,596.6L1382.8,592.9ZM1483.3,566.1L1486.2,568.2L1489.8,571.9L1490.9,575.1L1493.5,574.1L1495.3,577.7L1500.7,578.8L1504.4,578.1L1502.5,581.7L1498.9,583.9L1498.9,586.4L1495.3,590.0L1492.4,592.2L1490.9,591.1L1491.7,588.2L1491.7,586.4L1488.0,584.6L1490.2,582.0L1490.9,579.1L1489.8,575.5L1488.0,572.6L1484.4,568.2ZM1483.3,588.2L1486.2,590.0L1489.1,591.8L1488.0,593.7L1484.4,597.3L1483.7,599.5L1479.0,601.6L1477.1,604.5L1476.1,607.8L1471.7,610.4L1467.3,610.4L1464.4,608.9L1460.8,608.2L1461.9,604.5L1466.3,600.9L1471.7,598.4L1477.1,595.5L1480.0,591.8L1480.8,589.3ZM1332.0,444.1L1337.4,442.7L1342.9,444.1L1344.7,450.3L1348.3,453.2L1353.8,448.5L1357.4,447.0L1364.7,449.5L1368.3,450.6L1375.5,453.5L1381.0,455.4L1385.7,458.6L1386.4,461.2L1391.9,463.0L1393.0,465.5L1390.1,466.6L1393.7,470.2L1397.3,473.9L1400.9,477.5L1403.8,479.3L1400.9,479.7L1395.5,478.2L1390.8,475.7L1386.4,471.3L1382.1,469.2L1377.4,471.0L1375.5,474.6L1371.9,474.6L1368.3,474.2L1362.8,470.6L1357.4,471.7L1360.3,466.6L1359.2,463.0L1355.6,459.3L1350.1,457.5L1344.7,455.7L1339.3,455.7L1338.5,452.1L1335.6,451.4L1341.1,449.5L1335.6,448.5L1332.0,446.3ZM1252.2,435.8L1254.3,433.9L1259.4,435.0L1261.2,431.4L1266.7,429.6L1270.3,424.9L1273.9,423.1L1277.6,419.4L1280.5,415.8L1283.0,417.6L1284.8,420.1L1289.2,422.0L1286.6,424.9L1284.1,426.7L1283.0,430.3L1284.8,433.9L1288.5,437.6L1284.8,438.3L1283.0,441.2L1283.0,444.8L1279.4,447.7L1278.7,452.1L1277.6,455.7L1272.8,456.1L1272.1,453.5L1266.7,452.8L1262.0,453.5L1257.6,452.1L1255.8,447.7L1252.9,444.1L1252.2,440.1ZM1202.5,420.9L1210.4,422.3L1213.3,426.7L1217.7,429.6L1221.3,433.2L1225.0,435.0L1230.4,439.4L1233.3,443.0L1235.8,446.6L1237.7,449.5L1241.3,452.1L1241.3,457.5L1240.6,462.3L1235.8,462.3L1232.2,459.0L1227.9,455.4L1223.1,450.3L1221.0,444.8L1217.0,440.5L1214.8,435.0L1210.4,432.1L1206.8,427.8L1203.2,423.8ZM1238.4,465.9L1241.3,462.6L1244.9,462.6L1250.4,464.8L1257.6,464.8L1259.4,464.4L1265.6,466.2L1271.8,469.5L1272.1,472.8L1266.7,471.3L1259.4,471.0L1252.2,469.2L1246.7,469.2L1242.7,468.1ZM1291.4,438.3L1295.0,436.5L1299.3,437.6L1304.8,437.9L1310.2,435.4L1308.4,439.7L1303.0,439.7L1297.5,439.4L1293.9,439.7L1292.1,443.0L1295.7,445.6L1301.2,444.1L1304.4,444.5L1301.2,447.4L1298.2,448.5L1300.4,452.1L1302.2,455.7L1303.0,459.3L1299.3,458.6L1297.5,455.7L1295.7,452.1L1293.2,453.9L1293.5,459.3L1291.4,461.5L1289.9,455.7L1288.5,452.1L1289.5,446.6L1291.4,443.7ZM1293.9,374.0L1300.1,374.0L1300.4,379.5L1298.2,383.8L1298.2,388.6L1301.2,389.7L1306.6,392.2L1306.6,395.1L1303.0,392.2L1299.3,391.5L1295.7,391.5L1294.3,388.6L1292.1,384.9L1293.2,381.3ZM1299.3,415.8L1303.0,410.3L1308.4,410.3L1312.0,406.7L1314.9,410.3L1315.7,415.8L1313.9,418.3L1312.0,420.5L1310.2,419.4L1306.6,417.6L1306.6,414.0L1303.0,414.0ZM1307.7,395.8L1311.3,395.8L1312.8,400.5L1310.2,404.2L1308.4,402.0L1309.5,399.5ZM1299.3,398.4L1303.0,399.5L1303.0,402.7L1299.3,403.1ZM1301.2,404.9L1304.8,402.0L1304.1,407.8L1302.2,407.4ZM1281.9,410.7L1284.8,407.4L1290.3,402.0L1291.0,403.4L1286.6,408.5L1283.0,411.1ZM1293.5,392.6L1297.2,392.9L1296.8,396.6L1295.0,396.2ZM1297.5,349.7L1299.0,352.3L1296.8,357.7L1295.0,361.3L1292.8,358.4L1292.8,354.8L1295.7,350.4ZM1251.1,371.5L1254.0,368.6L1258.3,368.6L1259.4,370.4L1256.9,374.0L1254.0,375.1L1251.1,373.7ZM1146.9,405.6L1151.3,410.3L1153.5,414.7L1152.4,418.0L1148.8,419.8L1146.6,417.6L1146.2,412.2ZM1369.4,290.9L1370.1,294.2L1371.9,297.8L1370.1,302.2L1368.3,306.9L1367.2,310.5L1364.7,314.1L1363.6,312.3L1361.0,314.1L1358.1,315.6L1353.8,315.6L1353.0,316.7L1350.1,319.6L1346.9,316.7L1342.9,316.0L1337.4,317.1L1332.0,317.8L1332.0,316.0L1337.4,312.7L1342.9,312.3L1348.3,312.0L1350.1,309.8L1353.0,305.8L1354.9,306.9L1359.2,305.8L1362.8,301.4L1364.7,296.7L1364.7,293.8L1365.7,291.6ZM1364.7,290.6L1365.7,285.1L1369.4,284.0L1370.8,277.9L1371.9,276.0L1375.5,279.7L1381.0,281.5L1383.9,280.4L1384.6,284.0L1379.2,285.5L1376.6,288.7L1371.2,286.6L1368.3,287.7L1366.5,286.9L1368.3,289.5L1365.7,290.9ZM1331.6,318.1L1334.5,319.6L1335.6,322.1L1333.8,326.9L1332.0,328.7L1330.2,327.9L1329.1,324.3L1327.6,322.5L1327.3,320.0L1329.8,319.2ZM1337.4,317.8L1342.9,316.3L1345.4,318.5L1343.6,320.3L1340.3,320.0L1338.5,322.1L1337.1,320.0ZM1371.9,244.1L1375.5,248.8L1376.6,254.3L1377.4,259.7L1381.7,263.3L1375.5,263.3L1374.8,268.8L1377.4,271.3L1377.4,274.2L1373.7,271.7L1371.9,274.2L1371.9,267.0L1372.6,259.7L1370.8,254.3L1371.2,247.7ZM836.0,259.7L843.9,258.6L851.2,257.5L857.7,257.2L861.7,255.3L859.6,254.3L862.8,250.3L857.7,248.8L856.6,246.6L854.8,243.4L851.2,241.6L849.4,238.6L845.8,237.9L847.6,236.1L849.4,232.5L843.9,231.7L842.1,232.1L844.7,228.8L838.5,228.5L836.7,231.4L835.6,235.0L836.7,237.9L838.5,240.5L839.2,242.3L843.9,241.9L845.0,245.2L845.8,247.4L840.3,247.7L840.3,249.5L842.1,251.4L837.8,253.2L843.9,254.3L846.9,254.3L841.4,255.3ZM834.9,251.7L834.9,247.7L836.7,243.7L834.9,240.8L829.4,240.5L825.8,243.0L820.4,244.5L820.4,247.4L824.0,248.1L821.1,250.6L818.9,252.4L821.1,254.3L826.5,253.2L831.2,252.1ZM769.6,203.4L775.0,200.2L780.4,203.4L789.5,201.3L798.6,199.8L803.3,201.6L807.3,205.2L802.2,207.8L795.0,209.6L787.7,211.1L780.4,209.6L774.3,209.6L776.8,207.8L769.6,205.6L776.8,204.5ZM896.6,152.6L907.4,150.8L918.3,150.8L929.2,150.1L954.6,150.1L947.4,153.3L929.2,154.4L934.7,158.1L925.6,159.9L918.3,163.1L911.1,161.0L905.6,158.1L896.6,154.4ZM1043.5,183.5L1050.8,184.2L1058.0,184.6L1065.3,184.6L1061.7,179.8L1059.8,175.1L1068.9,170.8L1078.0,167.1L1092.5,164.2L1105.2,162.1L1096.1,161.7L1081.6,164.2L1067.1,167.1L1058.0,170.8L1052.6,175.1L1047.1,179.8ZM1205.0,153.7L1215.9,158.1L1232.2,157.0L1237.7,153.3L1223.1,150.8L1208.6,147.2L1190.5,149.7ZM1355.6,167.1L1361.0,165.0L1375.5,166.0L1382.8,167.5L1371.9,169.3L1361.0,170.0ZM1364.7,174.8L1377.4,175.5L1371.9,172.9ZM1390.1,168.2L1402.8,168.6L1397.3,170.0ZM1504.4,183.5L1509.8,181.7L1509.8,183.8ZM1027.2,149.0L1041.7,147.9L1038.1,150.1ZM1049.0,149.7L1067.1,149.0L1074.4,147.2L1081.6,148.3L1063.5,145.0L1052.6,147.2ZM902.0,303.3L912.9,302.5L911.8,307.6L903.8,306.2ZM886.4,292.4L891.8,292.4L891.5,298.9L887.5,299.6ZM888.2,286.6L891.1,285.1L890.8,290.6L888.6,290.2ZM942.3,312.3L952.1,313.1L951.0,314.1L942.3,313.4ZM973.9,314.1L981.8,312.0L980.0,314.5L975.7,315.6ZM865.4,297.5L869.0,296.7L867.5,298.5ZM896.6,239.0L902.0,237.9L901.3,240.8L897.3,240.8ZM922.7,233.2L926.3,231.0L924.9,234.3ZM1050.1,395.5L1054.4,395.5L1052.6,396.6ZM1304.8,478.6L1310.2,474.6L1317.5,471.7L1315.7,473.9L1308.4,477.9ZM1291.4,472.1L1297.5,471.7L1303.0,471.3L1299.3,473.1L1292.1,473.1ZM1280.5,472.1L1284.8,471.0L1288.5,472.1L1284.8,473.5L1281.2,473.9ZM1272.1,471.0L1276.5,471.0L1280.1,471.7L1277.6,473.5L1273.9,472.8ZM1288.5,475.7L1293.9,476.4L1292.1,478.6L1289.2,476.8ZM1319.3,433.9L1321.1,437.6L1323.6,435.8L1322.9,439.4L1321.1,443.0L1320.0,440.1L1319.3,437.6ZM1321.1,452.1L1326.6,451.4L1331.3,453.2L1326.6,453.9L1321.8,453.5ZM1313.9,452.8L1317.5,452.5L1318.2,454.6L1314.6,455.0ZM1394.8,461.5L1400.9,459.3L1406.4,456.4L1409.3,456.8L1406.4,461.2L1400.9,463.7L1397.3,463.7ZM1403.8,450.6L1408.2,453.2L1411.8,457.9L1410.7,455.7L1406.4,451.7ZM1418.0,461.2L1422.0,464.8L1420.9,466.2L1417.6,463.0ZM1424.5,466.6L1428.2,469.2L1427.4,470.2ZM1435.4,475.0L1440.1,476.8L1437.2,477.1ZM1439.0,471.3L1441.9,475.7L1440.9,475.3ZM1451.7,514.2L1457.2,517.4L1462.6,522.1L1459.0,521.1L1453.6,516.7ZM1461.2,495.6L1463.3,497.8L1462.6,498.6ZM1500.0,504.7L1504.7,505.5L1503.6,507.3L1500.0,506.9ZM1505.4,501.5L1509.8,500.0L1508.0,502.2ZM1106.3,619.1L1111.7,619.8L1110.7,621.6L1107.0,621.2ZM1057.3,517.1L1059.1,517.8L1058.0,518.5ZM1064.9,514.2L1066.4,514.5L1065.3,515.6ZM1193.0,392.2L1194.1,395.8L1193.4,399.1L1192.3,395.8ZM1196.6,415.1L1197.4,416.5L1196.6,416.2ZM1209.3,436.1L1211.9,438.7L1210.8,439.0ZM1214.8,444.8L1217.0,447.4L1215.9,447.7ZM1238.7,447.4L1242.0,447.0L1243.8,451.7L1241.3,450.6ZM1247.1,451.0L1249.3,451.4L1248.2,452.8ZM795.3,338.1L797.9,337.7L796.4,339.6ZM804.8,337.4L806.6,336.7L805.8,339.2ZM799.3,339.2L800.8,339.2L800.0,340.3ZM763.0,304.0L765.2,304.0L764.1,304.3ZM753.2,301.1L755.0,301.4L754.0,301.8ZM770.7,386.0L771.7,386.4L771.0,387.1ZM830.2,215.4L833.1,215.1L832.0,217.6ZM851.2,221.6L853.0,221.2L851.9,223.8ZM824.0,183.1L827.6,183.1L825.8,184.2ZM1032.6,189.6L1037.4,189.3L1036.3,191.5L1032.6,191.5ZM1070.7,186.0L1076.2,187.1L1072.5,188.2ZM1110.7,175.1L1116.1,174.8L1114.3,176.2ZM1420.2,258.6L1423.4,257.2L1422.0,259.0ZM1408.2,270.6L1410.0,269.5L1409.3,271.0ZM1399.1,275.3L1402.8,273.5L1400.9,275.3ZM1389.7,279.7L1395.5,276.8L1393.7,277.9ZM1384.6,282.2L1387.5,280.0L1386.4,281.5ZM1320.0,346.5L1322.2,343.9L1321.1,345.0ZM1314.6,320.0L1317.1,319.6L1315.7,320.7ZM1449.9,227.0L1454.3,226.3L1451.7,228.8ZM998.9,462.3L1000.0,463.0L999.6,464.4ZM1013.8,482.9L1014.5,484.0L1013.8,484.4Z" fill="none" stroke="#000" stroke-width="1.15" stroke-linejoin="round"/>
</g>
<g fill="none" stroke="#000" stroke-width="1.0">
<path d="M475.6,223.4L247.0,223.4L247.0,177.8L475.6,177.8Z"/>
<path d="M820.4,259.7L475.6,259.7L475.6,132.7L820.4,132.7Z"/>
<path d="M475.6,337.5L384.9,337.5L384.9,223.4L475.6,223.4Z"/>
<path d="M548.2,259.7L548.2,337.5L475.6,337.5L475.6,259.7Z"/>
<path d="M638.9,350.4L548.2,350.4L548.2,259.7L638.9,259.7Z"/>
<path d="M607.0,399.7L567.3,445.7L427.3,337.5L528.9,337.5Z"/>
<path d="M675.2,513.8L615.8,513.8L567.3,445.7L607.0,399.7L675.2,399.7Z"/>
<path d="M733.3,513.8L675.2,513.8L675.2,441.2L733.3,441.2Z"/>
<path d="M567.3,445.7L615.8,513.8L594.9,622.7L612.3,647.0L559.0,647.0L559.0,439.3Z"/>
<path d="M713.8,513.8L713.8,647.0L612.3,647.0L594.9,622.7L615.8,513.8Z"/>
<path d="M820.4,267.0L820.4,168.9L1001.8,168.9L1001.8,218.6Z"/>
<path d="M820.4,277.9L820.4,267.0L1001.8,218.6L1001.8,277.9Z"/>
<path d="M820.4,332.3L820.4,277.9L1001.8,277.9L1001.8,332.3Z"/>
<path d="M784.1,386.8L784.1,332.3L1001.8,332.3L1001.8,386.8Z"/>
<path d="M784.1,482.5L784.1,386.8L947.4,386.8L947.4,482.5Z"/>
<path d="M947.4,482.5L947.4,386.8L1045.3,386.8L1045.3,482.5Z"/>
<path d="M820.4,568.2L820.4,482.5L1045.3,482.5L1045.3,568.2Z"/>
<path d="M1001.8,259.7L1001.8,187.1L1509.8,187.1L1509.8,259.7Z"/>
<path d="M1001.8,386.8L1001.8,259.7L1074.4,259.7L1074.4,386.8Z"/>
<path d="M1074.4,332.3L1074.4,259.7L1128.8,259.7L1128.8,332.3Z"/>
<path d="M1128.8,332.3L1128.8,259.7L1219.5,259.7L1219.5,332.3Z"/>
<path d="M1219.5,368.6L1219.5,259.7L1382.8,259.7L1382.8,368.6Z"/>
<path d="M1074.4,423.1L1074.4,332.3L1219.5,332.3L1219.5,368.6L1201.4,368.6L1201.4,423.1Z"/>
<path d="M1201.4,477.5L1201.4,368.6L1419.1,368.6L1419.1,477.5Z"/>
<path d="M1255.8,550.1L1255.8,477.5L1419.1,477.5L1419.1,550.1Z"/>
<path d="M1255.8,622.7L1255.8,550.1L1509.8,550.1L1509.8,622.7Z"/>
<path d="M607.0,399.7L548.2,350.4L638.9,350.4L638.9,399.7Z"/>
</g>
<text transform="translate(339.74,215.00) scale(0.9851,1)" font-size="29.60">ALA</text>
<text transform="translate(398.37,270.00) scale(0.9975,1)" font-size="29.60">WNA</text>
<text transform="translate(479.48,321.00) scale(1.0093,1)" font-size="29.60">CNA</text>
<text transform="translate(569.86,343.50) scale(1.0055,1)" font-size="29.60">ENA</text>
<text transform="translate(708.07,245.50) scale(1.0829,1)" font-size="29.60">CGI</text>
<text transform="translate(497.12,397.50) scale(1.0494,1)" font-size="29.60">CAM</text>
<text transform="translate(578.29,390.00) scale(1.0064,1)" font-size="29.60">CAR</text>
<text transform="translate(600.94,488.50) scale(1.0163,1)" font-size="29.60">AMZ</text>
<text transform="translate(673.55,510.50) scale(1.0093,1)" font-size="29.60">NEB</text>
<text transform="translate(533.47,561.00) scale(0.9846,1)" font-size="29.60">WSA</text>
<text transform="translate(652.14,633.00) scale(1.0151,1)" font-size="29.60">SSA</text>
<text transform="translate(823.65,197.50) scale(1.0505,1)" font-size="29.60">NEU</text>
<text transform="translate(933.20,270.00) scale(1.0629,1)" font-size="29.60">CEU</text>
<text transform="translate(868.56,320.00) scale(1.0479,1)" font-size="29.60">MED</text>
<text transform="translate(883.46,357.50) scale(1.0700,1)" font-size="29.60">SAH</text>
<text transform="translate(1005.87,342.50) scale(0.9843,1)" font-size="29.60">WAS</text>
<text transform="translate(1071.85,306.00) scale(1.0328,1)" font-size="29.60">CAS</text>
<text transform="translate(1159.36,306.00) scale(0.9676,1)" font-size="29.60">TIB</text>
<text transform="translate(1150.26,233.80) scale(1.0477,1)" font-size="29.60">NAS</text>
<text transform="translate(1127.30,360.00) scale(1.0385,1)" font-size="29.60">SAS</text>
<text transform="translate(1322.18,353.50) scale(1.0371,1)" font-size="29.60">EAS</text>
<text transform="translate(1347.11,397.50) scale(1.0358,1)" font-size="29.60">SEA</text>
<text transform="translate(798.56,480.00) scale(1.0458,1)" font-size="29.60">WAF</text>
<text transform="translate(970.97,470.00) scale(1.0416,1)" font-size="29.60">EAF</text>
<text transform="translate(825.97,554.50) scale(1.0665,1)" font-size="29.60">SAF</text>
<text transform="translate(1330.83,542.50) scale(1.0591,1)" font-size="29.60">NAU</text>
<text transform="translate(1260.79,597.50) scale(1.0483,1)" font-size="29.60">SAU</text>
<g stroke="#000" stroke-width="2.1" fill="none" stroke-linecap="butt">
<path d="M181.1,114.2 H1509.8 V681.0"/>
<path d="M203.6,114.2 V681.0" stroke-width="2.5"/>
<path d="M181.1,659.0 H1509.8"/>
<path d="M181.1,223.2 H203.6" stroke-width="1.9"/>
<path d="M181.1,332.1 H203.6" stroke-width="1.9"/>
<path d="M181.1,441.1 H203.6" stroke-width="1.9"/>
<path d="M181.1,550.1 H203.6" stroke-width="1.9"/>
<path d="M530.1,659.0 V681.0" stroke-width="1.9"/>
<path d="M856.7,659.0 V681.0" stroke-width="1.9"/>
<path d="M1183.2,659.0 V681.0" stroke-width="1.9"/>
</g>
<text transform="translate(94.96,125.10) scale(1.0209,1)" font-size="30.00">90°N</text>
<text transform="translate(94.84,234.07) scale(1.0228,1)" font-size="30.00">60°N</text>
<text transform="translate(95.24,343.03) scale(1.0167,1)" font-size="30.00">30°N</text>
<text transform="translate(132.15,452.00) scale(1.0697,1)" font-size="30.00">0°</text>
<text transform="translate(95.23,560.96) scale(1.0261,1)" font-size="30.00">30°S</text>
<text transform="translate(94.83,669.93) scale(1.0324,1)" font-size="30.00">60°S</text>
<text transform="translate(171.67,724.20) scale(1.0247,1)" font-size="29.80">180°</text>
<text transform="translate(492.30,724.20) scale(0.9987,1)" font-size="29.80">90°W</text>
<text transform="translate(841.71,724.20) scale(1.1043,1)" font-size="29.80">0°</text>
<text transform="translate(1149.36,724.20) scale(1.0311,1)" font-size="29.80">90°E</text>
<text transform="translate(1478.47,724.20) scale(1.0247,1)" font-size="29.80">180°</text>
<text transform="translate(199.94,65.20) scale(1.0438,1)" font-size="44.20">(a) Trend of resistance to flash drought</text>
<g stroke="#1a1a1a" stroke-width="1">
<rect x="371.9" y="740.0" width="161.9" height="27.8" fill="#52330f"/>
<rect x="533.8" y="740.0" width="161.9" height="27.8" fill="#8b5e24"/>
<rect x="695.6" y="740.0" width="161.9" height="27.8" fill="#c6a25f"/>
<rect x="857.5" y="740.0" width="161.9" height="27.8" fill="#bee0d9"/>
<rect x="1019.4" y="740.0" width="161.9" height="27.8" fill="#79ada3"/>
<rect x="1181.2" y="740.0" width="161.9" height="27.8" fill="#3f6d67"/>
</g>
<text transform="translate(504.99,801.30) scale(1.0500,1)" font-size="33.00">-0.1</text>
<text transform="translate(657.11,801.30) scale(1.0500,1)" font-size="33.00">-0.05</text>
<text transform="translate(847.87,801.30) scale(1.0500,1)" font-size="33.00">0</text>
<text transform="translate(985.71,801.30) scale(1.0500,1)" font-size="33.00">0.05</text>
<text transform="translate(1157.34,801.30) scale(1.0500,1)" font-size="33.00">0.1</text>
<g stroke="#000" fill="none">
<rect x="202.7" y="900.8" width="569.3" height="475.4" stroke-width="2.3"/>
<path d="M202.7,1376.2v13.6M202.7,900.8v-13.6M324.7,1376.2v13.6M324.7,900.8v-13.6M446.7,1376.2v13.6M446.7,900.8v-13.6M568.7,1376.2v13.6M568.7,900.8v-13.6M690.7,1376.2v13.6M690.7,900.8v-13.6M202.7,1376.2h-13.6M772.0,1376.2h13.6M202.7,1240.4h-13.6M772.0,1240.4h13.6M202.7,1104.5h-13.6M772.0,1104.5h13.6M202.7,968.7h-13.6M772.0,968.7h13.6" stroke-width="2.1"/>
<path d="M243.4,1376.2v7.0M243.4,900.8v-7.0M284.0,1376.2v7.0M284.0,900.8v-7.0M365.4,1376.2v7.0M365.4,900.8v-7.0M406.0,1376.2v7.0M406.0,900.8v-7.0M487.3,1376.2v7.0M487.3,900.8v-7.0M528.0,1376.2v7.0M528.0,900.8v-7.0M609.3,1376.2v7.0M609.3,900.8v-7.0M650.0,1376.2v7.0M650.0,900.8v-7.0M731.3,1376.2v7.0M731.3,900.8v-7.0M772.0,1376.2v7.0M772.0,900.8v-7.0M202.7,1349.0h-7.0M772.0,1349.0h7.0M202.7,1321.9h-7.0M772.0,1321.9h7.0M202.7,1294.7h-7.0M772.0,1294.7h7.0M202.7,1267.5h-7.0M772.0,1267.5h7.0M202.7,1213.2h-7.0M772.0,1213.2h7.0M202.7,1186.0h-7.0M772.0,1186.0h7.0M202.7,1158.9h-7.0M772.0,1158.9h7.0M202.7,1131.7h-7.0M772.0,1131.7h7.0M202.7,1077.4h-7.0M772.0,1077.4h7.0M202.7,1050.2h-7.0M772.0,1050.2h7.0M202.7,1023.0h-7.0M772.0,1023.0h7.0M202.7,995.9h-7.0M772.0,995.9h7.0M202.7,941.5h-7.0M772.0,941.5h7.0M202.7,914.4h-7.0M772.0,914.4h7.0" stroke-width="1.4"/>
</g>
<text transform="translate(175.24,1424.00) scale(1.0450,1)" font-size="23.00">-0.60</text>
<text transform="translate(297.24,1424.00) scale(1.0450,1)" font-size="23.00">-0.30</text>
<text transform="translate(423.30,1424.00) scale(1.0450,1)" font-size="23.00">0.00</text>
<text transform="translate(545.29,1424.00) scale(1.0450,1)" font-size="23.00">0.30</text>
<text transform="translate(667.28,1424.00) scale(1.0450,1)" font-size="23.00">0.60</text>
<text transform="translate(117.16,1384.80) scale(1.0450,1)" font-size="23.00">-0.20</text>
<text transform="translate(117.16,1248.97) scale(1.0450,1)" font-size="23.00">-0.10</text>
<text transform="translate(125.16,1113.14) scale(1.0450,1)" font-size="23.00">0.00</text>
<text transform="translate(125.16,977.31) scale(1.0450,1)" font-size="23.00">0.10</text>
<text transform="translate(199.14,876.20) scale(1.0212,1)" font-size="42.00">(b)</text>
<g fill="#d20f14">
<circle cx="220.3" cy="940.6" r="5.3"/>
<circle cx="419.5" cy="916.2" r="5.3"/>
<circle cx="392.5" cy="1004.7" r="5.3"/>
<circle cx="325.5" cy="1019.9" r="5.3"/>
<circle cx="339.9" cy="1025.7" r="5.3"/>
<circle cx="451.1" cy="1034.5" r="5.3"/>
<circle cx="343.8" cy="1074.2" r="5.3"/>
<circle cx="440.4" cy="1072.3" r="5.3"/>
<circle cx="313.1" cy="1095.7" r="5.3"/>
<circle cx="385.4" cy="1093.5" r="5.3"/>
<circle cx="317.6" cy="1113.5" r="5.3"/>
<circle cx="354.9" cy="1117.8" r="5.3"/>
<circle cx="478.1" cy="1121.8" r="5.3"/>
<circle cx="281.8" cy="1143.3" r="5.3"/>
<circle cx="454.3" cy="1145.0" r="5.3"/>
<circle cx="490.0" cy="1143.2" r="5.3"/>
<circle cx="515.6" cy="1039.9" r="5.3"/>
<circle cx="544.8" cy="1095.0" r="5.3"/>
<circle cx="479.2" cy="1151.2" r="5.3"/>
<circle cx="341.6" cy="1190.1" r="5.3"/>
<circle cx="477.9" cy="1189.4" r="5.3"/>
<circle cx="499.1" cy="1182.9" r="5.3"/>
<circle cx="633.9" cy="1190.1" r="5.3"/>
<circle cx="548.5" cy="1233.7" r="5.3"/>
<circle cx="744.2" cy="1213.1" r="5.3"/>
<circle cx="730.7" cy="1245.5" r="5.3"/>
<circle cx="729.6" cy="1330.6" r="5.3"/>
</g>
<path d="M219.7,1010.2L745,1247" stroke="#000" stroke-width="2.2" fill="none"/>
<text transform="translate(500.10,976.50) scale(1.0895,1)" font-size="30"><tspan font-family="'Liberation Serif', 'DejaVu Serif', serif" font-style="italic" font-size="33">R</tspan>=-0.66, <tspan font-family="'Liberation Serif', 'DejaVu Serif', serif" font-style="italic" font-size="33">p</tspan>=0.0002</text>
<text transform="translate(88.40,1325.00) rotate(-90) scale(0.9461,1)" font-size="41.60">Change in resistance</text>
<text transform="translate(218.01,1455.40) scale(1.0442,1)" font-size="37.50">Change in declining magnitude</text>
<text transform="translate(381.11,1499.90) scale(1.0297,1)" font-size="37.50">(%/year)</text>
<g stroke="#000" fill="none">
<rect x="943.7" y="901.0" width="562.9" height="469.5" stroke-width="2.3"/>
<path d="M943.7,1370.5v13.6M943.7,901.0v-13.6M1056.3,1370.5v13.6M1056.3,901.0v-13.6M1168.9,1370.5v13.6M1168.9,901.0v-13.6M1281.4,1370.5v13.6M1281.4,901.0v-13.6M1394.0,1370.5v13.6M1394.0,901.0v-13.6M1506.6,1370.5v13.6M1506.6,901.0v-13.6M943.7,1370.5h-13.6M1506.6,1370.5h13.6M943.7,1236.4h-13.6M1506.6,1236.4h13.6M943.7,1102.2h-13.6M1506.6,1102.2h13.6M943.7,968.1h-13.6M1506.6,968.1h13.6" stroke-width="2.1"/>
<path d="M971.8,1370.5v7.0M971.8,901.0v-7.0M1000.0,1370.5v7.0M1000.0,901.0v-7.0M1028.1,1370.5v7.0M1028.1,901.0v-7.0M1084.4,1370.5v7.0M1084.4,901.0v-7.0M1112.6,1370.5v7.0M1112.6,901.0v-7.0M1140.7,1370.5v7.0M1140.7,901.0v-7.0M1197.0,1370.5v7.0M1197.0,901.0v-7.0M1225.2,1370.5v7.0M1225.2,901.0v-7.0M1253.3,1370.5v7.0M1253.3,901.0v-7.0M1309.6,1370.5v7.0M1309.6,901.0v-7.0M1337.7,1370.5v7.0M1337.7,901.0v-7.0M1365.9,1370.5v7.0M1365.9,901.0v-7.0M1422.2,1370.5v7.0M1422.2,901.0v-7.0M1450.3,1370.5v7.0M1450.3,901.0v-7.0M1478.5,1370.5v7.0M1478.5,901.0v-7.0M943.7,1343.7h-7.0M1506.6,1343.7h7.0M943.7,1316.8h-7.0M1506.6,1316.8h7.0M943.7,1290.0h-7.0M1506.6,1290.0h7.0M943.7,1263.2h-7.0M1506.6,1263.2h7.0M943.7,1209.5h-7.0M1506.6,1209.5h7.0M943.7,1182.7h-7.0M1506.6,1182.7h7.0M943.7,1155.9h-7.0M1506.6,1155.9h7.0M943.7,1129.0h-7.0M1506.6,1129.0h7.0M943.7,1075.4h-7.0M1506.6,1075.4h7.0M943.7,1048.6h-7.0M1506.6,1048.6h7.0M943.7,1021.7h-7.0M1506.6,1021.7h7.0M943.7,994.9h-7.0M1506.6,994.9h7.0M943.7,941.2h-7.0M1506.6,941.2h7.0M943.7,914.4h-7.0M1506.6,914.4h7.0" stroke-width="1.4"/>
</g>
<text transform="translate(916.24,1417.60) scale(1.0450,1)" font-size="23.00">-0.40</text>
<text transform="translate(1028.82,1417.60) scale(1.0450,1)" font-size="23.00">-0.20</text>
<text transform="translate(1145.47,1417.60) scale(1.0450,1)" font-size="23.00">0.00</text>
<text transform="translate(1258.05,1417.60) scale(1.0450,1)" font-size="23.00">0.20</text>
<text transform="translate(1370.63,1417.60) scale(1.0450,1)" font-size="23.00">0.40</text>
<text transform="translate(1483.21,1417.60) scale(1.0450,1)" font-size="23.00">0.60</text>
<text transform="translate(859.16,1379.10) scale(1.0450,1)" font-size="23.00">-0.20</text>
<text transform="translate(859.16,1244.96) scale(1.0450,1)" font-size="23.00">-0.10</text>
<text transform="translate(867.16,1110.81) scale(1.0450,1)" font-size="23.00">0.00</text>
<text transform="translate(867.16,976.67) scale(1.0450,1)" font-size="23.00">0.10</text>
<text transform="translate(941.31,876.60) scale(0.9940,1)" font-size="42.00">(c)</text>
<g fill="#d20f14">
<circle cx="1219.6" cy="940.3" r="5.3"/>
<circle cx="1206.9" cy="1003.2" r="5.3"/>
<circle cx="1153.3" cy="1018.6" r="5.3"/>
<circle cx="1213.4" cy="1024.4" r="5.3"/>
<circle cx="1139.4" cy="1072.0" r="5.3"/>
<circle cx="1212.7" cy="1070.5" r="5.3"/>
<circle cx="1134.0" cy="1090.7" r="5.3"/>
<circle cx="1132.5" cy="1093.5" r="5.3"/>
<circle cx="1032.5" cy="1111.1" r="5.3"/>
<circle cx="1151.2" cy="1114.7" r="5.3"/>
<circle cx="1156.9" cy="1119.2" r="5.3"/>
<circle cx="1100.8" cy="1140.1" r="5.3"/>
<circle cx="1181.1" cy="1141.8" r="5.3"/>
<circle cx="1222.3" cy="1140.1" r="5.3"/>
<circle cx="1210.8" cy="1148.2" r="5.3"/>
<circle cx="1414.9" cy="916.2" r="5.3"/>
<circle cx="1263.8" cy="1033.2" r="5.3"/>
<circle cx="1274.7" cy="1038.3" r="5.3"/>
<circle cx="1263.6" cy="1092.8" r="5.3"/>
<circle cx="1031.6" cy="1186.7" r="5.3"/>
<circle cx="1158.9" cy="1185.6" r="5.3"/>
<circle cx="1208.9" cy="1179.4" r="5.3"/>
<circle cx="1115.3" cy="1229.6" r="5.3"/>
<circle cx="1218.3" cy="1241.2" r="5.3"/>
<circle cx="1156.5" cy="1325.3" r="5.3"/>
<circle cx="1258.0" cy="1186.4" r="5.3"/>
<circle cx="1328.0" cy="1209.4" r="5.3"/>
</g>
<path d="M1031.2,1174.9L1415.7,1026.5" stroke="#000" stroke-width="2.2" fill="none"/>
<text transform="translate(1252.30,975.90) scale(1.0864,1)" font-size="30"><tspan font-family="'Liberation Serif', 'DejaVu Serif', serif" font-style="italic" font-size="33">R</tspan>=0.34, <tspan font-family="'Liberation Serif', 'DejaVu Serif', serif" font-style="italic" font-size="33">p</tspan>=0.080</text>
<text transform="translate(830.60,1319.18) rotate(-90) scale(0.9489,1)" font-size="41.00">Change in resistance</text>
<text transform="translate(1009.93,1449.20) scale(1.0421,1)" font-size="37.20">Change in response time</text>
<text transform="translate(1138.21,1491.80) scale(1.0366,1)" font-size="37.20">(day/year)</text>
</svg>
</body></html>
